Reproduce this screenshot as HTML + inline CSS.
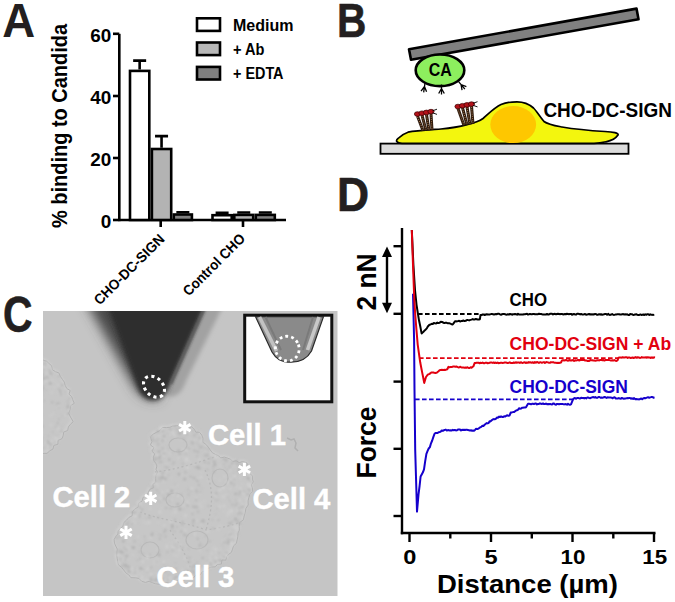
<!DOCTYPE html><html><head><meta charset="utf-8"><style>html,body{margin:0;padding:0;background:#fff;overflow:hidden;}svg{display:block}</style></head><body>
<svg width="675" height="602" viewBox="0 0 675 602">
<defs>
<filter id="b1" x="-20%" y="-20%" width="140%" height="140%"><feGaussianBlur stdDeviation="1.2"/></filter>
<filter id="b2" x="-30%" y="-30%" width="160%" height="160%"><feGaussianBlur stdDeviation="2"/></filter>
<filter id="b15" x="-30%" y="-30%" width="160%" height="160%"><feGaussianBlur stdDeviation="1.6"/></filter>
<filter id="bd" x="-5%" y="-5%" width="110%" height="110%"><feGaussianBlur stdDeviation="0.8"/></filter>
<filter id="b3" x="-30%" y="-30%" width="160%" height="160%"><feGaussianBlur stdDeviation="3"/></filter>
<filter id="b6" x="-30%" y="-30%" width="160%" height="160%"><feGaussianBlur stdDeviation="6"/></filter>
<filter id="bh" x="-30%" y="-30%" width="160%" height="160%"><feGaussianBlur stdDeviation="0.6"/></filter>
</defs>
<rect width="675" height="602" fill="#fff"/>
<text x="0" y="0" font-family="Liberation Sans" font-weight="bold" font-size="49" fill="#231f20" stroke="#231f20" stroke-width="0" stroke-linejoin="round" transform="translate(2.3 37) scale(0.93 1)">A</text>
<text x="0" y="0" font-family="Liberation Sans" font-weight="bold" font-size="47.8" fill="#231f20" stroke="#231f20" stroke-width="0.6" stroke-linejoin="round" transform="translate(337.1 36.9) scale(0.85 1)">B</text>
<text x="0" y="0" font-family="Liberation Sans" font-weight="bold" font-size="49.8" fill="#231f20" stroke="#231f20" stroke-width="0.6" stroke-linejoin="round" transform="translate(3.1 332.2) scale(0.82 1)">C</text>
<text x="0" y="0" font-family="Liberation Sans" font-weight="bold" font-size="47.8" fill="#231f20" stroke="#231f20" stroke-width="0.6" stroke-linejoin="round" transform="translate(337.1 211.3) scale(0.93 1)">D</text>
<g stroke="#000" stroke-width="2.6" fill="none">
<path d="M119.3 33.8 V221.2"/>
<path d="M119.3 220 H286"/>
<path d="M113 33.8 H119.3"/>
<path d="M113 96 H119.3"/>
<path d="M113 158 H119.3"/>
<path d="M113 220 H119.3"/>
<path d="M160.7 220 V227"/><path d="M243 220 V227"/>
</g>
<text x="0" y="0" font-family="Liberation Sans" font-weight="bold" font-size="18.2" text-anchor="end" transform="translate(111.2 41.7) scale(1.04 1)">60</text>
<text x="0" y="0" font-family="Liberation Sans" font-weight="bold" font-size="18.2" text-anchor="end" transform="translate(111.2 103.7) scale(1.04 1)">40</text>
<text x="0" y="0" font-family="Liberation Sans" font-weight="bold" font-size="18.2" text-anchor="end" transform="translate(111.2 165.7) scale(1.04 1)">20</text>
<text x="0" y="0" font-family="Liberation Sans" font-weight="bold" font-size="18.2" text-anchor="end" transform="translate(111.2 227.7) scale(1.04 1)">0</text>
<path d="M139.65 69.6 V60.6 M133.15 60.6 H146.15" stroke="#000" stroke-width="2.6" fill="none"/>
<path d="M161.55 147.7 V136.1 M155.05 136.1 H168.05" stroke="#000" stroke-width="2.6" fill="none"/>
<path d="M182.85 213.2 V212.3 M176.35 212.3 H189.35" stroke="#000" stroke-width="2.6" fill="none"/>
<path d="M222.10 213.9 V212.8 M215.60 212.8 H228.60" stroke="#000" stroke-width="2.6" fill="none"/>
<path d="M243.75 213.6 V212.5 M237.25 212.5 H250.25" stroke="#000" stroke-width="2.6" fill="none"/>
<path d="M265.30 213.6 V212.5 M258.80 212.5 H271.80" stroke="#000" stroke-width="2.6" fill="none"/>
<rect x="130.00" y="70.90" width="19.30" height="149.10" fill="#fff" stroke="#000" stroke-width="2.6"/>
<rect x="151.90" y="149.00" width="19.30" height="71.00" fill="#b3b3b3" stroke="#000" stroke-width="2.6"/>
<rect x="173.80" y="214.50" width="18.10" height="5.50" fill="#808080" stroke="#000" stroke-width="2.6"/>
<rect x="212.50" y="215.20" width="19.20" height="4.80" fill="#fff" stroke="#000" stroke-width="2.6"/>
<rect x="234.30" y="214.90" width="18.90" height="5.10" fill="#b3b3b3" stroke="#000" stroke-width="2.6"/>
<rect x="255.80" y="214.90" width="19.00" height="5.10" fill="#808080" stroke="#000" stroke-width="2.6"/>
<rect x="197" y="18.3" width="23" height="12.6" fill="#fff" stroke="#000" stroke-width="2.6"/>
<text x="233" y="31.4" font-family="Liberation Sans" font-weight="bold" font-size="16.3" fill="#000" text-anchor="start" textLength="60.5" lengthAdjust="spacingAndGlyphs" >Medium</text>
<rect x="197" y="42.5" width="23" height="12.6" fill="#b8b8b8" stroke="#000" stroke-width="2.6"/>
<text x="233" y="55" font-family="Liberation Sans" font-weight="bold" font-size="16.3" fill="#000" text-anchor="start" textLength="31.5" lengthAdjust="spacingAndGlyphs" >+ Ab</text>
<rect x="197" y="66.9" width="23" height="12.6" fill="#7f7f7f" stroke="#000" stroke-width="2.6"/>
<text x="233" y="79" font-family="Liberation Sans" font-weight="bold" font-size="16.3" fill="#000" text-anchor="start" textLength="50.5" lengthAdjust="spacingAndGlyphs" >+ EDTA</text>
<text x="0" y="0" font-family="Liberation Sans" font-weight="bold" font-size="21.5" transform="translate(66.6 228) rotate(-90)" textLength="204" lengthAdjust="spacingAndGlyphs">% binding to Candida</text>
<text x="0" y="0" font-family="Liberation Sans" font-weight="bold" font-size="14.3" transform="translate(165.5 240) rotate(-45)" text-anchor="end" textLength="93" lengthAdjust="spacingAndGlyphs">CHO-DC-SIGN</text>
<text x="0" y="0" font-family="Liberation Sans" font-weight="bold" font-size="14.3" transform="translate(246 239.5) rotate(-45)" text-anchor="end" textLength="81" lengthAdjust="spacingAndGlyphs">Control CHO</text>
<rect x="380.5" y="143.6" width="248" height="10.2" fill="#dcdcdc" stroke="#000" stroke-width="1.8"/>
<path d="M402 143.3 C396 143 395.5 140.5 398 138.5 C401 135.5 404 133.5 408 132.2 C416 130.5 430 129.8 441 129 C452 128 460 126.5 467 124.6 C474 123 479 121.5 483 118.5 C489 113.5 494 108 501 104.6 C506 102.3 511 101.8 517 101.8 C523 101.8 529 104 533.5 108 C537 111.5 540 117 544 121.5 C548 124.5 554 125.5 562 127 C575 129.2 590 130.6 605 131.5 C613 132 619 133 618 135 C616 138 612 140.5 606 141.8 C602 142.8 598 143.3 594 143.3 Z" fill="#f3f60e" stroke="#000" stroke-width="1.7"/>
<ellipse cx="513.2" cy="124.6" rx="22.9" ry="18.5" fill="#fec700" filter="url(#bh)"/>
<path d="M417.5 116 L423 130.8" stroke="#2e1a0e" stroke-width="3"/><path d="M417.5 117 L423 129.8" stroke="#b08050" stroke-width="0.9" stroke-dasharray="1 1.2"/><path d="M422 115.2 L426 130.5" stroke="#2e1a0e" stroke-width="3"/><path d="M422 116.2 L426 129.5" stroke="#b08050" stroke-width="0.9" stroke-dasharray="1 1.2"/><path d="M426.5 114.4 L429 130.4" stroke="#2e1a0e" stroke-width="3"/><path d="M426.5 115.4 L429 129.4" stroke="#b08050" stroke-width="0.9" stroke-dasharray="1 1.2"/><path d="M431 113.6 L432 130.2" stroke="#2e1a0e" stroke-width="3"/><path d="M431 114.6 L432 129.2" stroke="#b08050" stroke-width="0.9" stroke-dasharray="1 1.2"/><ellipse cx="417.5" cy="114" rx="3.1" ry="2.3" fill="#b3121a" stroke="#3a0000" stroke-width="0.7"/><ellipse cx="422" cy="113.2" rx="3.1" ry="2.3" fill="#b3121a" stroke="#3a0000" stroke-width="0.7"/><ellipse cx="426.5" cy="112.4" rx="3.1" ry="2.3" fill="#b3121a" stroke="#3a0000" stroke-width="0.7"/><ellipse cx="431" cy="111.6" rx="3.1" ry="2.3" fill="#b3121a" stroke="#3a0000" stroke-width="0.7"/><path d="M432.5 110.8 l4.5 -1.6 M432.5 112.8 l4.5 1.6" stroke="#000" stroke-width="0.9"/>
<path d="M458 108.5 L464 125.4" stroke="#2e1a0e" stroke-width="3"/><path d="M458 109.5 L464 124.4" stroke="#b08050" stroke-width="0.9" stroke-dasharray="1 1.2"/><path d="M462.5 107.7 L467 125" stroke="#2e1a0e" stroke-width="3"/><path d="M462.5 108.7 L467 124" stroke="#b08050" stroke-width="0.9" stroke-dasharray="1 1.2"/><path d="M467 106.9 L470 124.5" stroke="#2e1a0e" stroke-width="3"/><path d="M467 107.9 L470 123.5" stroke="#b08050" stroke-width="0.9" stroke-dasharray="1 1.2"/><path d="M471.5 106.1 L473 124" stroke="#2e1a0e" stroke-width="3"/><path d="M471.5 107.1 L473 123" stroke="#b08050" stroke-width="0.9" stroke-dasharray="1 1.2"/><ellipse cx="458" cy="106.5" rx="3.1" ry="2.3" fill="#b3121a" stroke="#3a0000" stroke-width="0.7"/><ellipse cx="462.5" cy="105.7" rx="3.1" ry="2.3" fill="#b3121a" stroke="#3a0000" stroke-width="0.7"/><ellipse cx="467" cy="104.9" rx="3.1" ry="2.3" fill="#b3121a" stroke="#3a0000" stroke-width="0.7"/><ellipse cx="471.5" cy="104.1" rx="3.1" ry="2.3" fill="#b3121a" stroke="#3a0000" stroke-width="0.7"/><path d="M473 103.3 l4.5 -1.6 M473 105.3 l4.5 1.6" stroke="#000" stroke-width="0.9"/>
<path d="M409 49.3 L636.5 8.6 L638.5 19.3 L411 59.8 Z" fill="#808080" stroke="#000" stroke-width="2.6" stroke-linejoin="round"/>
<ellipse cx="440" cy="70.3" rx="24.3" ry="15.8" fill="#8def5e" stroke="#000" stroke-width="2.6"/>
<text x="440.2" y="76.3" font-family="Liberation Sans" font-weight="bold" font-size="17.8" fill="#000" text-anchor="middle" textLength="23" lengthAdjust="spacingAndGlyphs" >CA</text>
<g transform="translate(424.5 86.5) rotate(8)" stroke="#000" stroke-width="1.3" fill="none"><path d="M0 -4 V3 M0 0 L-2.8 5 M0 0 L2.8 5 M0 1 L0 6"/></g>
<g transform="translate(441.5 88.5) rotate(0)" stroke="#000" stroke-width="1.3" fill="none"><path d="M0 -4 V3 M0 0 L-2.8 5 M0 0 L2.8 5 M0 1 L0 6"/></g>
<g transform="translate(461 84.5) rotate(-40)" stroke="#000" stroke-width="1.3" fill="none"><path d="M0 -4 V3 M0 0 L-2.8 5 M0 0 L2.8 5 M0 1 L0 6"/></g>
<text x="543.4" y="117.2" font-family="Liberation Sans" font-weight="bold" font-size="19.4" fill="#000" text-anchor="start" textLength="128.5" lengthAdjust="spacingAndGlyphs" >CHO-DC-SIGN</text>
<svg x="43" y="311" width="294.7" height="285" viewBox="43 311 294.7 285" overflow="hidden">
<rect x="43" y="311" width="294.7" height="285" fill="#c5c5c5"/>
<path d="M203 300 L226 300 L186 381 C182 393 176 398 166 396 Z" fill="#a2a2a2" filter="url(#b2)"/>
<path d="M85 300 L160 300 L160 398 C152 402 142 398 135 388 Z" fill="#4a4a4a" filter="url(#b6)"/>
<path d="M105 300 L208 300 L171 383 C166 396 160 400 153 400 C146 400 141 396 138 388 Z" fill="#2d2d2d" filter="url(#b2)"/>
<path d="M206 305 L171 384" stroke="#585858" stroke-width="2.2" filter="url(#b1)"/>
<ellipse cx="154" cy="386.7" rx="12" ry="8.8" transform="rotate(45 154 386.7)" fill="none" stroke="#fff" stroke-width="3.1" stroke-dasharray="3.1 3.4"/>
<path d="M149.7 435.7 L152.5 433.1 L155.8 431.3 L158.9 429.7 L161.6 426.6 L165.4 426.7 L169.0 426.4 L171.8 425.2 L176.0 424.9 L180.2 424.4 L183.4 425.7 L186.4 428.0 L190.6 425.9 L193.1 428.0 L195.0 431.3 L198.6 431.4 L200.9 434.2 L202.1 437.4 L201.9 441.3 L205.0 443.4 L207.2 446.1 L209.3 449.0 L211.4 451.8 L214.5 453.5 L217.3 454.7 L219.9 457.0 L223.4 456.2 L226.3 457.1 L229.3 458.2 L231.9 460.6 L235.3 459.9 L238.2 461.7 L241.6 460.7 L245.7 461.8 L247.5 464.8 L247.1 468.9 L248.2 472.3 L251.7 475.0 L251.6 478.0 L252.4 481.0 L250.3 484.0 L251.4 487.0 L251.9 490.4 L249.1 493.2 L248.0 496.6 L247.2 500.0 L247.3 504.1 L245.0 507.6 L244.4 511.4 L243.3 515.1 L242.5 518.9 L238.6 521.8 L238.3 525.5 L238.4 529.3 L237.1 532.3 L236.9 535.9 L236.2 539.2 L235.5 542.5 L232.7 544.9 L231.6 548.2 L230.5 551.5 L228.0 553.3 L225.9 555.6 L224.9 559.3 L221.1 559.1 L220.4 563.2 L216.8 563.4 L214.3 565.9 L210.7 566.2 L207.3 567.2 L205.0 569.9 L201.4 570.7 L199.1 574.3 L195.0 574.0 L192.3 577.2 L188.6 576.9 L185.3 578.1 L182.1 579.7 L178.2 578.4 L175.2 581.3 L171.8 581.3 L168.5 582.5 L164.8 581.2 L161.4 582.9 L158.0 583.3 L154.7 582.9 L151.5 581.8 L148.3 580.4 L144.6 581.5 L141.0 580.5 L138.0 577.5 L134.4 576.9 L130.0 576.8 L127.9 574.0 L125.0 572.0 L122.9 569.2 L120.7 566.5 L117.6 564.0 L116.9 560.9 L116.3 557.8 L115.9 554.7 L116.0 551.5 L116.4 548.2 L114.9 545.3 L113.6 542.3 L113.2 538.8 L114.7 535.9 L117.0 533.2 L117.3 530.0 L119.3 527.8 L121.9 525.4 L123.0 521.6 L125.6 519.3 L127.9 516.6 L131.3 514.9 L131.5 510.9 L133.9 508.1 L137.4 506.0 L137.8 502.1 L141.1 500.3 L142.2 496.5 L145.7 495.0 L147.3 491.7 L148.9 488.5 L152.5 486.9 L152.0 483.6 L154.9 481.0 L154.8 477.8 L154.9 474.6 L156.7 471.3 L155.1 468.4 L156.0 465.1 L154.8 462.2 L152.6 459.4 L152.5 456.2 L153.8 452.9 L151.0 450.3 L153.1 446.6 L149.5 444.1 L151.1 440.6 L150.0 437.6 Z" fill="#c7c7c7" stroke="#cfcfcf" stroke-width="2.2" filter="url(#b1)"/>
<path d="M149.7 435.7 L152.5 433.1 L155.8 431.3 L158.9 429.7 L161.6 426.6 L165.4 426.7 L169.0 426.4 L171.8 425.2 L176.0 424.9 L180.2 424.4 L183.4 425.7 L186.4 428.0 L190.6 425.9 L193.1 428.0 L195.0 431.3 L198.6 431.4 L200.9 434.2 L202.1 437.4 L201.9 441.3 L205.0 443.4 L207.2 446.1 L209.3 449.0 L211.4 451.8 L214.5 453.5 L217.3 454.7 L219.9 457.0 L223.4 456.2 L226.3 457.1 L229.3 458.2 L231.9 460.6 L235.3 459.9 L238.2 461.7 L241.6 460.7 L245.7 461.8 L247.5 464.8 L247.1 468.9 L248.2 472.3 L251.7 475.0 L251.6 478.0 L252.4 481.0 L250.3 484.0 L251.4 487.0 L251.9 490.4 L249.1 493.2 L248.0 496.6 L247.2 500.0 L247.3 504.1 L245.0 507.6 L244.4 511.4 L243.3 515.1 L242.5 518.9 L238.6 521.8 L238.3 525.5 L238.4 529.3 L237.1 532.3 L236.9 535.9 L236.2 539.2 L235.5 542.5 L232.7 544.9 L231.6 548.2 L230.5 551.5 L228.0 553.3 L225.9 555.6 L224.9 559.3 L221.1 559.1 L220.4 563.2 L216.8 563.4 L214.3 565.9 L210.7 566.2 L207.3 567.2 L205.0 569.9 L201.4 570.7 L199.1 574.3 L195.0 574.0 L192.3 577.2 L188.6 576.9 L185.3 578.1 L182.1 579.7 L178.2 578.4 L175.2 581.3 L171.8 581.3 L168.5 582.5 L164.8 581.2 L161.4 582.9 L158.0 583.3 L154.7 582.9 L151.5 581.8 L148.3 580.4 L144.6 581.5 L141.0 580.5 L138.0 577.5 L134.4 576.9 L130.0 576.8 L127.9 574.0 L125.0 572.0 L122.9 569.2 L120.7 566.5 L117.6 564.0 L116.9 560.9 L116.3 557.8 L115.9 554.7 L116.0 551.5 L116.4 548.2 L114.9 545.3 L113.6 542.3 L113.2 538.8 L114.7 535.9 L117.0 533.2 L117.3 530.0 L119.3 527.8 L121.9 525.4 L123.0 521.6 L125.6 519.3 L127.9 516.6 L131.3 514.9 L131.5 510.9 L133.9 508.1 L137.4 506.0 L137.8 502.1 L141.1 500.3 L142.2 496.5 L145.7 495.0 L147.3 491.7 L148.9 488.5 L152.5 486.9 L152.0 483.6 L154.9 481.0 L154.8 477.8 L154.9 474.6 L156.7 471.3 L155.1 468.4 L156.0 465.1 L154.8 462.2 L152.6 459.4 L152.5 456.2 L153.8 452.9 L151.0 450.3 L153.1 446.6 L149.5 444.1 L151.1 440.6 L150.0 437.6 Z" fill="none" stroke="#b3b3b3" stroke-width="1" transform="translate(0.9 0.9)" filter="url(#bh)"/>
<path d="M40.3 357.0 L42.8 359.6 L45.7 360.3 L48.1 362.6 L50.7 364.8 L51.5 368.8 L54.5 370.8 L58.0 372.0 L59.3 375.3 L61.5 378.4 L63.3 381.0 L64.3 384.4 L65.8 387.5 L69.3 389.6 L68.1 393.3 L70.8 395.7 L71.8 398.7 L73.4 402.4 L69.5 404.9 L69.3 408.4 L67.8 412.3 L69.6 416.1 L72.3 420.8 L69.7 423.3 L67.5 426.0 L66.8 429.6 L62.8 431.1 L62.3 434.9 L60.9 438.0 L57.2 439.4 L57.0 443.4 L52.9 444.5 L52.1 448.1 L48.9 449.9 L46.1 452.5 L43.0 452.5 L39.0 453.0 L38.5 449.9 L41.2 446.9 L39.2 443.8 L40.9 440.7 L39.1 437.7 L41.5 434.6 L41.3 431.5 L40.8 428.5 L40.8 425.4 L40.3 422.4 L40.7 419.3 L38.8 416.2 L39.9 413.2 L41.0 410.1 L39.0 407.0 L41.4 404.0 L41.2 400.9 L39.7 397.8 L39.6 394.8 L39.8 391.7 L39.6 388.6 L41.6 385.6 L39.6 382.5 L38.5 379.5 L38.7 376.4 L40.7 373.3 L41.6 370.3 L40.0 367.2 L40.0 364.1 L40.2 361.1 Z" fill="#c7c7c7" stroke="#cfcfcf" stroke-width="2.2" filter="url(#b1)"/>
<path d="M40.3 357.0 L42.8 359.6 L45.7 360.3 L48.1 362.6 L50.7 364.8 L51.5 368.8 L54.5 370.8 L58.0 372.0 L59.3 375.3 L61.5 378.4 L63.3 381.0 L64.3 384.4 L65.8 387.5 L69.3 389.6 L68.1 393.3 L70.8 395.7 L71.8 398.7 L73.4 402.4 L69.5 404.9 L69.3 408.4 L67.8 412.3 L69.6 416.1 L72.3 420.8 L69.7 423.3 L67.5 426.0 L66.8 429.6 L62.8 431.1 L62.3 434.9 L60.9 438.0 L57.2 439.4 L57.0 443.4 L52.9 444.5 L52.1 448.1 L48.9 449.9 L46.1 452.5 L43.0 452.5 L39.0 453.0 L38.5 449.9 L41.2 446.9 L39.2 443.8 L40.9 440.7 L39.1 437.7 L41.5 434.6 L41.3 431.5 L40.8 428.5 L40.8 425.4 L40.3 422.4 L40.7 419.3 L38.8 416.2 L39.9 413.2 L41.0 410.1 L39.0 407.0 L41.4 404.0 L41.2 400.9 L39.7 397.8 L39.6 394.8 L39.8 391.7 L39.6 388.6 L41.6 385.6 L39.6 382.5 L38.5 379.5 L38.7 376.4 L40.7 373.3 L41.6 370.3 L40.0 367.2 L40.0 364.1 L40.2 361.1 Z" fill="none" stroke="#b3b3b3" stroke-width="1" transform="translate(0.9 0.9)" filter="url(#bh)"/>
<path d="M155 472 C175 470 200 462 217 456 M205 470 C215 490 212 510 206 530 M140 512 C160 520 185 522 206 530 C220 528 235 525 240 522 M170 530 C180 545 190 560 192 576" fill="none" stroke="#b7b7b7" stroke-width="1.3" stroke-dasharray="2 2.5" filter="url(#bh)"/>
<ellipse cx="178" cy="445" rx="9" ry="7" fill="none" stroke="#b9b9b9" stroke-width="1.2" filter="url(#bh)"/>
<ellipse cx="220" cy="478" rx="8" ry="9" fill="none" stroke="#b9b9b9" stroke-width="1.2" filter="url(#bh)"/>
<ellipse cx="175" cy="500" rx="9" ry="7" fill="none" stroke="#b9b9b9" stroke-width="1.2" filter="url(#bh)"/>
<ellipse cx="197" cy="540" rx="11" ry="9" fill="none" stroke="#b9b9b9" stroke-width="1.2" filter="url(#bh)"/>
<ellipse cx="150" cy="550" rx="9" ry="8" fill="none" stroke="#b9b9b9" stroke-width="1.2" filter="url(#bh)"/>
<g filter="url(#bd)"><circle cx="139.1" cy="505.0" r="0.8" fill="rgb(184,184,184)"/><circle cx="203.4" cy="521.4" r="1.4" fill="rgb(176,176,176)"/><circle cx="158.5" cy="517.5" r="1.2" fill="rgb(186,186,186)"/><circle cx="210.8" cy="473.9" r="0.7" fill="rgb(188,188,188)"/><circle cx="191.0" cy="441.1" r="1.0" fill="rgb(188,188,188)"/><circle cx="220.5" cy="466.7" r="0.7" fill="rgb(204,204,204)"/><circle cx="170.0" cy="570.1" r="0.7" fill="rgb(180,180,180)"/><circle cx="167.9" cy="580.7" r="1.5" fill="rgb(188,188,188)"/><circle cx="192.8" cy="430.7" r="0.9" fill="rgb(208,208,208)"/><circle cx="196.5" cy="490.7" r="1.1" fill="rgb(176,176,176)"/><circle cx="203.3" cy="521.5" r="1.4" fill="rgb(186,186,186)"/><circle cx="150.7" cy="494.6" r="0.9" fill="rgb(184,184,184)"/><circle cx="185.3" cy="573.9" r="1.1" fill="rgb(176,176,176)"/><circle cx="162.8" cy="473.4" r="1.1" fill="rgb(180,180,180)"/><circle cx="193.6" cy="520.4" r="1.5" fill="rgb(180,180,180)"/><circle cx="234.3" cy="539.3" r="1.1" fill="rgb(208,208,208)"/><circle cx="196.2" cy="500.1" r="1.1" fill="rgb(180,180,180)"/><circle cx="198.0" cy="569.7" r="1.0" fill="rgb(176,176,176)"/><circle cx="133.4" cy="520.8" r="1.2" fill="rgb(204,204,204)"/><circle cx="205.0" cy="455.4" r="1.4" fill="rgb(186,186,186)"/><circle cx="175.5" cy="467.6" r="1.0" fill="rgb(206,206,206)"/><circle cx="229.1" cy="522.9" r="0.9" fill="rgb(176,176,176)"/><circle cx="201.6" cy="488.1" r="0.9" fill="rgb(188,188,188)"/><circle cx="207.6" cy="455.6" r="1.3" fill="rgb(184,184,184)"/><circle cx="217.2" cy="508.7" r="0.9" fill="rgb(186,186,186)"/><circle cx="177.3" cy="527.1" r="0.9" fill="rgb(180,180,180)"/><circle cx="231.0" cy="479.2" r="1.0" fill="rgb(208,208,208)"/><circle cx="136.3" cy="505.4" r="0.9" fill="rgb(188,188,188)"/><circle cx="185.6" cy="514.7" r="0.8" fill="rgb(210,210,210)"/><circle cx="136.6" cy="571.3" r="0.9" fill="rgb(206,206,206)"/><circle cx="179.1" cy="474.2" r="1.4" fill="rgb(176,176,176)"/><circle cx="131.5" cy="547.4" r="0.8" fill="rgb(186,186,186)"/><circle cx="212.9" cy="462.7" r="1.3" fill="rgb(208,208,208)"/><circle cx="170.4" cy="507.8" r="1.4" fill="rgb(186,186,186)"/><circle cx="187.0" cy="458.6" r="1.2" fill="rgb(210,210,210)"/><circle cx="231.2" cy="460.8" r="1.4" fill="rgb(204,204,204)"/><circle cx="127.1" cy="555.7" r="0.9" fill="rgb(184,184,184)"/><circle cx="199.8" cy="550.5" r="1.4" fill="rgb(204,204,204)"/><circle cx="207.7" cy="453.9" r="0.7" fill="rgb(180,180,180)"/><circle cx="179.7" cy="454.0" r="1.4" fill="rgb(184,184,184)"/><circle cx="244.2" cy="497.1" r="1.0" fill="rgb(204,204,204)"/><circle cx="172.2" cy="480.1" r="0.7" fill="rgb(204,204,204)"/><circle cx="209.8" cy="557.6" r="1.0" fill="rgb(208,208,208)"/><circle cx="126.8" cy="549.4" r="1.3" fill="rgb(180,180,180)"/><circle cx="210.3" cy="560.3" r="1.2" fill="rgb(206,206,206)"/><circle cx="140.0" cy="516.5" r="0.9" fill="rgb(188,188,188)"/><circle cx="129.7" cy="541.6" r="0.8" fill="rgb(206,206,206)"/><circle cx="172.9" cy="452.7" r="0.8" fill="rgb(184,184,184)"/><circle cx="160.6" cy="498.2" r="1.5" fill="rgb(204,204,204)"/><circle cx="151.2" cy="576.2" r="1.2" fill="rgb(186,186,186)"/><circle cx="215.0" cy="464.6" r="1.3" fill="rgb(176,176,176)"/><circle cx="185.1" cy="558.0" r="1.3" fill="rgb(208,208,208)"/><circle cx="178.0" cy="578.9" r="0.7" fill="rgb(180,180,180)"/><circle cx="162.7" cy="448.5" r="1.2" fill="rgb(184,184,184)"/><circle cx="214.4" cy="461.7" r="1.3" fill="rgb(188,188,188)"/><circle cx="200.5" cy="543.3" r="1.1" fill="rgb(186,186,186)"/><circle cx="162.3" cy="477.5" r="1.4" fill="rgb(184,184,184)"/><circle cx="240.0" cy="491.7" r="1.1" fill="rgb(180,180,180)"/><circle cx="158.7" cy="563.6" r="1.0" fill="rgb(204,204,204)"/><circle cx="155.6" cy="474.3" r="0.9" fill="rgb(210,210,210)"/><circle cx="163.4" cy="481.9" r="1.2" fill="rgb(206,206,206)"/><circle cx="222.9" cy="541.0" r="1.1" fill="rgb(206,206,206)"/><circle cx="228.4" cy="513.1" r="1.4" fill="rgb(208,208,208)"/><circle cx="188.7" cy="548.8" r="0.9" fill="rgb(180,180,180)"/><circle cx="224.4" cy="476.7" r="1.1" fill="rgb(208,208,208)"/><circle cx="171.6" cy="490.6" r="1.5" fill="rgb(184,184,184)"/><circle cx="165.2" cy="450.5" r="1.1" fill="rgb(206,206,206)"/><circle cx="213.9" cy="472.0" r="1.4" fill="rgb(184,184,184)"/><circle cx="169.0" cy="575.3" r="1.1" fill="rgb(180,180,180)"/><circle cx="151.4" cy="580.8" r="1.4" fill="rgb(186,186,186)"/><circle cx="184.5" cy="432.4" r="0.7" fill="rgb(184,184,184)"/><circle cx="150.8" cy="537.4" r="1.3" fill="rgb(208,208,208)"/><circle cx="183.1" cy="427.0" r="1.4" fill="rgb(186,186,186)"/><circle cx="126.3" cy="554.8" r="1.0" fill="rgb(210,210,210)"/><circle cx="157.1" cy="488.2" r="1.2" fill="rgb(208,208,208)"/><circle cx="216.1" cy="548.2" r="0.7" fill="rgb(208,208,208)"/><circle cx="165.5" cy="536.4" r="1.1" fill="rgb(180,180,180)"/><circle cx="243.3" cy="513.1" r="1.1" fill="rgb(204,204,204)"/><circle cx="131.8" cy="523.8" r="1.0" fill="rgb(186,186,186)"/><circle cx="228.5" cy="517.8" r="0.7" fill="rgb(186,186,186)"/><circle cx="249.1" cy="492.7" r="1.4" fill="rgb(204,204,204)"/><circle cx="218.9" cy="554.0" r="1.4" fill="rgb(204,204,204)"/><circle cx="157.3" cy="548.9" r="0.7" fill="rgb(210,210,210)"/><circle cx="159.1" cy="478.2" r="1.1" fill="rgb(180,180,180)"/><circle cx="154.0" cy="440.3" r="1.3" fill="rgb(188,188,188)"/><circle cx="237.5" cy="510.8" r="1.1" fill="rgb(210,210,210)"/><circle cx="242.0" cy="513.8" r="1.3" fill="rgb(186,186,186)"/><circle cx="171.0" cy="476.8" r="0.9" fill="rgb(204,204,204)"/><circle cx="238.0" cy="521.4" r="0.8" fill="rgb(176,176,176)"/><circle cx="170.2" cy="429.2" r="1.2" fill="rgb(180,180,180)"/><circle cx="137.6" cy="506.3" r="0.7" fill="rgb(204,204,204)"/><circle cx="169.0" cy="502.8" r="1.0" fill="rgb(204,204,204)"/><circle cx="237.8" cy="507.3" r="1.0" fill="rgb(206,206,206)"/><circle cx="147.3" cy="557.7" r="1.5" fill="rgb(206,206,206)"/><circle cx="213.9" cy="562.0" r="1.0" fill="rgb(210,210,210)"/><circle cx="224.1" cy="459.1" r="1.4" fill="rgb(180,180,180)"/><circle cx="127.3" cy="549.4" r="1.2" fill="rgb(210,210,210)"/><circle cx="133.2" cy="533.6" r="0.7" fill="rgb(188,188,188)"/><circle cx="232.9" cy="536.9" r="1.0" fill="rgb(208,208,208)"/><circle cx="137.0" cy="560.4" r="0.9" fill="rgb(186,186,186)"/><circle cx="124.2" cy="569.2" r="0.7" fill="rgb(176,176,176)"/><circle cx="157.7" cy="500.5" r="1.1" fill="rgb(188,188,188)"/><circle cx="229.6" cy="532.3" r="0.8" fill="rgb(210,210,210)"/><circle cx="146.1" cy="501.4" r="0.9" fill="rgb(208,208,208)"/><circle cx="141.5" cy="577.7" r="1.4" fill="rgb(208,208,208)"/><circle cx="238.1" cy="514.1" r="1.2" fill="rgb(186,186,186)"/><circle cx="217.3" cy="519.1" r="1.1" fill="rgb(208,208,208)"/><circle cx="170.0" cy="507.2" r="0.9" fill="rgb(210,210,210)"/><circle cx="171.9" cy="436.1" r="0.9" fill="rgb(186,186,186)"/><circle cx="187.8" cy="490.4" r="1.0" fill="rgb(188,188,188)"/><circle cx="134.8" cy="572.3" r="1.3" fill="rgb(186,186,186)"/><circle cx="157.9" cy="484.9" r="1.0" fill="rgb(206,206,206)"/><circle cx="219.4" cy="506.2" r="1.2" fill="rgb(206,206,206)"/><circle cx="216.2" cy="500.4" r="1.2" fill="rgb(188,188,188)"/><circle cx="123.0" cy="559.0" r="1.2" fill="rgb(204,204,204)"/><circle cx="145.9" cy="524.1" r="0.8" fill="rgb(206,206,206)"/><circle cx="152.8" cy="535.3" r="0.9" fill="rgb(206,206,206)"/><circle cx="235.3" cy="525.7" r="1.5" fill="rgb(204,204,204)"/><circle cx="166.1" cy="568.0" r="1.2" fill="rgb(184,184,184)"/><circle cx="168.1" cy="448.8" r="0.8" fill="rgb(184,184,184)"/><circle cx="187.0" cy="461.5" r="1.3" fill="rgb(204,204,204)"/><circle cx="164.2" cy="532.1" r="1.4" fill="rgb(186,186,186)"/><circle cx="165.4" cy="530.0" r="1.5" fill="rgb(184,184,184)"/><circle cx="240.9" cy="466.4" r="1.2" fill="rgb(188,188,188)"/><circle cx="120.5" cy="536.9" r="0.9" fill="rgb(176,176,176)"/><circle cx="233.0" cy="526.8" r="1.3" fill="rgb(206,206,206)"/><circle cx="248.2" cy="485.6" r="0.9" fill="rgb(210,210,210)"/><circle cx="168.6" cy="475.0" r="1.0" fill="rgb(186,186,186)"/><circle cx="122.6" cy="565.3" r="0.7" fill="rgb(180,180,180)"/><circle cx="249.7" cy="488.7" r="1.3" fill="rgb(204,204,204)"/><circle cx="168.0" cy="433.1" r="0.9" fill="rgb(188,188,188)"/><circle cx="228.0" cy="538.8" r="1.5" fill="rgb(176,176,176)"/><circle cx="237.0" cy="522.7" r="0.9" fill="rgb(184,184,184)"/><circle cx="157.9" cy="438.9" r="0.9" fill="rgb(184,184,184)"/><circle cx="172.8" cy="425.5" r="0.8" fill="rgb(206,206,206)"/><circle cx="178.6" cy="572.6" r="1.4" fill="rgb(184,184,184)"/><circle cx="220.3" cy="507.1" r="1.4" fill="rgb(206,206,206)"/><circle cx="148.9" cy="522.6" r="1.5" fill="rgb(208,208,208)"/><circle cx="168.9" cy="561.3" r="0.8" fill="rgb(208,208,208)"/><circle cx="184.7" cy="479.2" r="1.4" fill="rgb(176,176,176)"/><circle cx="163.9" cy="439.9" r="1.5" fill="rgb(204,204,204)"/><circle cx="170.8" cy="521.3" r="1.4" fill="rgb(208,208,208)"/><circle cx="213.5" cy="455.2" r="1.0" fill="rgb(206,206,206)"/><circle cx="193.3" cy="430.5" r="1.5" fill="rgb(188,188,188)"/><circle cx="197.4" cy="480.6" r="1.3" fill="rgb(180,180,180)"/><circle cx="161.3" cy="535.4" r="0.9" fill="rgb(180,180,180)"/><circle cx="175.2" cy="434.2" r="1.2" fill="rgb(188,188,188)"/><circle cx="151.9" cy="440.2" r="1.1" fill="rgb(180,180,180)"/><circle cx="127.4" cy="565.9" r="0.7" fill="rgb(204,204,204)"/><circle cx="205.3" cy="448.6" r="1.1" fill="rgb(184,184,184)"/><circle cx="249.8" cy="486.6" r="1.3" fill="rgb(210,210,210)"/><circle cx="213.9" cy="546.8" r="0.8" fill="rgb(208,208,208)"/><circle cx="194.5" cy="450.9" r="1.4" fill="rgb(184,184,184)"/><circle cx="128.1" cy="558.6" r="0.8" fill="rgb(210,210,210)"/><circle cx="226.5" cy="460.2" r="1.3" fill="rgb(180,180,180)"/><circle cx="186.6" cy="428.5" r="1.4" fill="rgb(188,188,188)"/><circle cx="167.2" cy="471.4" r="0.8" fill="rgb(210,210,210)"/><circle cx="172.8" cy="495.4" r="0.7" fill="rgb(210,210,210)"/><circle cx="221.8" cy="525.7" r="0.7" fill="rgb(208,208,208)"/><circle cx="124.1" cy="547.7" r="1.0" fill="rgb(184,184,184)"/><circle cx="175.1" cy="493.2" r="1.4" fill="rgb(204,204,204)"/><circle cx="203.2" cy="442.0" r="1.0" fill="rgb(180,180,180)"/><circle cx="187.3" cy="556.9" r="1.1" fill="rgb(188,188,188)"/><circle cx="158.7" cy="534.4" r="1.0" fill="rgb(188,188,188)"/><circle cx="223.8" cy="464.3" r="1.0" fill="rgb(186,186,186)"/><circle cx="145.5" cy="543.2" r="1.1" fill="rgb(188,188,188)"/><circle cx="162.7" cy="471.8" r="0.9" fill="rgb(184,184,184)"/><circle cx="141.1" cy="508.7" r="0.8" fill="rgb(180,180,180)"/><circle cx="250.3" cy="482.4" r="1.5" fill="rgb(180,180,180)"/><circle cx="213.4" cy="465.9" r="0.8" fill="rgb(176,176,176)"/><circle cx="235.6" cy="529.7" r="0.8" fill="rgb(210,210,210)"/><circle cx="220.0" cy="465.1" r="1.2" fill="rgb(204,204,204)"/><circle cx="192.6" cy="570.7" r="1.4" fill="rgb(188,188,188)"/><circle cx="156.2" cy="562.1" r="0.8" fill="rgb(180,180,180)"/><circle cx="239.8" cy="509.9" r="0.8" fill="rgb(184,184,184)"/><circle cx="126.0" cy="566.4" r="1.3" fill="rgb(186,186,186)"/><circle cx="197.8" cy="571.7" r="0.8" fill="rgb(210,210,210)"/><circle cx="249.1" cy="489.6" r="1.3" fill="rgb(184,184,184)"/><circle cx="159.4" cy="461.7" r="1.2" fill="rgb(188,188,188)"/><circle cx="192.5" cy="514.8" r="0.9" fill="rgb(188,188,188)"/><circle cx="155.1" cy="476.2" r="1.3" fill="rgb(176,176,176)"/><circle cx="170.6" cy="580.7" r="0.8" fill="rgb(204,204,204)"/><circle cx="171.2" cy="530.1" r="1.0" fill="rgb(186,186,186)"/><circle cx="179.0" cy="553.5" r="0.7" fill="rgb(208,208,208)"/><circle cx="244.5" cy="491.3" r="0.9" fill="rgb(180,180,180)"/><circle cx="206.7" cy="563.7" r="1.0" fill="rgb(208,208,208)"/><circle cx="213.2" cy="531.1" r="0.8" fill="rgb(204,204,204)"/><circle cx="186.0" cy="573.9" r="0.7" fill="rgb(186,186,186)"/><circle cx="139.3" cy="576.8" r="0.9" fill="rgb(180,180,180)"/><circle cx="218.3" cy="487.4" r="0.7" fill="rgb(184,184,184)"/><circle cx="235.9" cy="528.2" r="1.5" fill="rgb(210,210,210)"/><circle cx="153.3" cy="451.1" r="1.1" fill="rgb(186,186,186)"/><circle cx="201.3" cy="524.3" r="1.1" fill="rgb(208,208,208)"/><circle cx="181.9" cy="570.0" r="1.2" fill="rgb(206,206,206)"/><circle cx="229.8" cy="514.0" r="1.1" fill="rgb(204,204,204)"/><circle cx="152.2" cy="494.1" r="0.9" fill="rgb(176,176,176)"/><circle cx="227.4" cy="550.3" r="0.8" fill="rgb(210,210,210)"/><circle cx="162.2" cy="433.2" r="0.8" fill="rgb(208,208,208)"/><circle cx="154.6" cy="563.5" r="0.9" fill="rgb(208,208,208)"/><circle cx="147.2" cy="569.6" r="1.2" fill="rgb(210,210,210)"/><circle cx="144.6" cy="536.6" r="1.1" fill="rgb(184,184,184)"/><circle cx="198.5" cy="442.6" r="1.0" fill="rgb(206,206,206)"/><circle cx="153.6" cy="574.7" r="1.3" fill="rgb(208,208,208)"/><circle cx="159.5" cy="468.2" r="0.8" fill="rgb(208,208,208)"/><circle cx="127.0" cy="535.6" r="0.9" fill="rgb(210,210,210)"/><circle cx="141.1" cy="515.9" r="1.0" fill="rgb(204,204,204)"/><circle cx="160.4" cy="575.8" r="1.0" fill="rgb(210,210,210)"/><circle cx="237.4" cy="463.8" r="1.1" fill="rgb(176,176,176)"/><circle cx="139.7" cy="545.3" r="0.8" fill="rgb(184,184,184)"/><circle cx="193.9" cy="572.0" r="1.3" fill="rgb(176,176,176)"/><circle cx="176.4" cy="492.5" r="0.9" fill="rgb(208,208,208)"/><circle cx="182.1" cy="548.2" r="1.2" fill="rgb(186,186,186)"/><circle cx="198.1" cy="431.3" r="0.9" fill="rgb(184,184,184)"/><circle cx="201.2" cy="477.1" r="1.2" fill="rgb(210,210,210)"/><circle cx="215.1" cy="561.7" r="1.3" fill="rgb(176,176,176)"/><circle cx="248.1" cy="478.1" r="1.4" fill="rgb(176,176,176)"/><circle cx="161.0" cy="491.5" r="0.9" fill="rgb(206,206,206)"/><circle cx="140.7" cy="568.5" r="1.4" fill="rgb(176,176,176)"/><circle cx="236.2" cy="529.0" r="1.2" fill="rgb(206,206,206)"/><circle cx="173.1" cy="432.2" r="1.3" fill="rgb(210,210,210)"/><circle cx="187.4" cy="427.8" r="0.8" fill="rgb(206,206,206)"/><circle cx="222.6" cy="541.0" r="0.7" fill="rgb(208,208,208)"/><circle cx="229.7" cy="535.0" r="1.2" fill="rgb(188,188,188)"/><circle cx="144.3" cy="522.1" r="1.3" fill="rgb(204,204,204)"/><circle cx="179.4" cy="433.4" r="1.4" fill="rgb(176,176,176)"/><circle cx="198.0" cy="511.7" r="1.3" fill="rgb(184,184,184)"/><circle cx="158.0" cy="498.0" r="0.7" fill="rgb(210,210,210)"/><circle cx="240.4" cy="471.4" r="0.9" fill="rgb(204,204,204)"/><circle cx="194.9" cy="466.5" r="1.1" fill="rgb(180,180,180)"/><circle cx="118.2" cy="550.1" r="1.1" fill="rgb(188,188,188)"/><circle cx="162.7" cy="575.2" r="0.7" fill="rgb(180,180,180)"/><circle cx="201.4" cy="441.5" r="1.2" fill="rgb(206,206,206)"/><circle cx="123.2" cy="541.9" r="0.9" fill="rgb(208,208,208)"/><circle cx="193.0" cy="524.0" r="1.3" fill="rgb(186,186,186)"/><circle cx="240.5" cy="519.6" r="1.0" fill="rgb(188,188,188)"/><circle cx="127.7" cy="524.8" r="1.3" fill="rgb(186,186,186)"/><circle cx="245.1" cy="474.9" r="1.0" fill="rgb(184,184,184)"/><circle cx="207.5" cy="561.1" r="1.0" fill="rgb(188,188,188)"/><circle cx="241.9" cy="474.6" r="1.1" fill="rgb(206,206,206)"/><circle cx="166.4" cy="508.1" r="1.0" fill="rgb(176,176,176)"/><circle cx="197.1" cy="456.3" r="1.1" fill="rgb(186,186,186)"/><circle cx="180.2" cy="430.8" r="0.8" fill="rgb(176,176,176)"/><circle cx="233.7" cy="479.5" r="0.8" fill="rgb(188,188,188)"/><circle cx="233.9" cy="484.3" r="0.8" fill="rgb(176,176,176)"/><circle cx="160.7" cy="580.5" r="0.9" fill="rgb(180,180,180)"/><circle cx="155.9" cy="580.3" r="1.4" fill="rgb(204,204,204)"/><circle cx="128.6" cy="527.4" r="0.9" fill="rgb(188,188,188)"/><circle cx="215.2" cy="561.1" r="1.5" fill="rgb(188,188,188)"/><circle cx="122.3" cy="523.5" r="1.5" fill="rgb(204,204,204)"/><circle cx="139.4" cy="504.1" r="1.4" fill="rgb(210,210,210)"/><circle cx="141.0" cy="512.1" r="0.8" fill="rgb(176,176,176)"/><circle cx="178.1" cy="504.3" r="1.3" fill="rgb(206,206,206)"/><circle cx="145.6" cy="500.2" r="1.4" fill="rgb(208,208,208)"/><circle cx="207.7" cy="448.1" r="0.8" fill="rgb(186,186,186)"/><circle cx="229.5" cy="510.3" r="1.5" fill="rgb(204,204,204)"/><circle cx="231.1" cy="482.9" r="1.1" fill="rgb(176,176,176)"/><circle cx="172.2" cy="525.1" r="1.2" fill="rgb(176,176,176)"/><circle cx="247.4" cy="469.4" r="1.1" fill="rgb(206,206,206)"/><circle cx="183.7" cy="433.3" r="1.2" fill="rgb(204,204,204)"/><circle cx="153.5" cy="496.1" r="1.0" fill="rgb(188,188,188)"/><circle cx="239.9" cy="500.6" r="1.4" fill="rgb(208,208,208)"/><circle cx="244.4" cy="494.3" r="1.2" fill="rgb(180,180,180)"/><circle cx="164.2" cy="564.6" r="0.7" fill="rgb(176,176,176)"/><circle cx="234.0" cy="540.1" r="0.9" fill="rgb(184,184,184)"/><circle cx="174.9" cy="519.8" r="1.0" fill="rgb(176,176,176)"/><circle cx="133.5" cy="547.5" r="1.5" fill="rgb(176,176,176)"/><circle cx="138.3" cy="502.3" r="0.9" fill="rgb(206,206,206)"/><circle cx="213.5" cy="497.4" r="0.9" fill="rgb(180,180,180)"/><circle cx="229.8" cy="500.9" r="0.8" fill="rgb(180,180,180)"/><circle cx="240.0" cy="471.9" r="1.3" fill="rgb(180,180,180)"/><circle cx="180.9" cy="438.9" r="1.5" fill="rgb(208,208,208)"/><circle cx="181.8" cy="425.9" r="1.3" fill="rgb(180,180,180)"/><circle cx="162.2" cy="577.9" r="0.8" fill="rgb(180,180,180)"/><circle cx="190.1" cy="439.4" r="1.2" fill="rgb(206,206,206)"/><circle cx="156.6" cy="442.9" r="1.3" fill="rgb(206,206,206)"/><circle cx="161.5" cy="576.0" r="1.3" fill="rgb(204,204,204)"/><circle cx="190.9" cy="571.0" r="1.2" fill="rgb(206,206,206)"/><circle cx="129.4" cy="548.3" r="1.0" fill="rgb(206,206,206)"/><circle cx="174.6" cy="545.3" r="0.9" fill="rgb(180,180,180)"/><circle cx="165.6" cy="498.4" r="0.7" fill="rgb(188,188,188)"/><circle cx="180.8" cy="438.1" r="1.4" fill="rgb(188,188,188)"/><circle cx="160.8" cy="508.0" r="0.9" fill="rgb(204,204,204)"/><circle cx="232.4" cy="504.7" r="1.4" fill="rgb(188,188,188)"/><circle cx="224.3" cy="487.1" r="0.8" fill="rgb(206,206,206)"/><circle cx="165.5" cy="466.7" r="1.3" fill="rgb(188,188,188)"/><circle cx="235.5" cy="518.9" r="1.5" fill="rgb(176,176,176)"/><circle cx="136.4" cy="513.1" r="0.8" fill="rgb(208,208,208)"/><circle cx="194.4" cy="534.9" r="1.1" fill="rgb(208,208,208)"/><circle cx="161.7" cy="581.0" r="0.8" fill="rgb(176,176,176)"/><circle cx="209.8" cy="541.4" r="1.5" fill="rgb(188,188,188)"/><circle cx="164.2" cy="525.2" r="1.3" fill="rgb(206,206,206)"/><circle cx="223.8" cy="497.2" r="1.1" fill="rgb(208,208,208)"/><circle cx="226.4" cy="537.3" r="1.4" fill="rgb(206,206,206)"/><circle cx="205.6" cy="535.8" r="1.2" fill="rgb(188,188,188)"/><circle cx="162.3" cy="477.7" r="1.4" fill="rgb(176,176,176)"/><circle cx="189.1" cy="432.3" r="1.3" fill="rgb(208,208,208)"/><circle cx="236.7" cy="486.8" r="1.4" fill="rgb(204,204,204)"/><circle cx="162.7" cy="431.2" r="1.2" fill="rgb(186,186,186)"/><circle cx="155.0" cy="475.4" r="1.4" fill="rgb(206,206,206)"/><circle cx="150.2" cy="508.7" r="1.4" fill="rgb(204,204,204)"/><circle cx="165.5" cy="478.9" r="1.4" fill="rgb(180,180,180)"/><circle cx="135.4" cy="513.8" r="0.8" fill="rgb(208,208,208)"/><circle cx="150.6" cy="579.3" r="1.3" fill="rgb(180,180,180)"/><circle cx="229.6" cy="545.8" r="1.1" fill="rgb(208,208,208)"/><circle cx="250.7" cy="476.0" r="1.0" fill="rgb(206,206,206)"/><circle cx="164.1" cy="454.1" r="1.3" fill="rgb(180,180,180)"/><circle cx="154.4" cy="460.9" r="1.4" fill="rgb(184,184,184)"/><circle cx="135.7" cy="516.0" r="1.5" fill="rgb(210,210,210)"/><circle cx="197.3" cy="562.4" r="0.9" fill="rgb(184,184,184)"/><circle cx="240.3" cy="509.7" r="1.4" fill="rgb(204,204,204)"/><circle cx="230.7" cy="459.7" r="0.7" fill="rgb(188,188,188)"/><circle cx="226.5" cy="462.6" r="0.7" fill="rgb(188,188,188)"/><circle cx="126.1" cy="533.8" r="1.1" fill="rgb(176,176,176)"/><circle cx="147.0" cy="498.5" r="1.0" fill="rgb(208,208,208)"/><circle cx="157.2" cy="455.9" r="1.1" fill="rgb(208,208,208)"/><circle cx="240.3" cy="467.0" r="1.5" fill="rgb(180,180,180)"/><circle cx="179.6" cy="457.0" r="1.1" fill="rgb(206,206,206)"/><circle cx="191.9" cy="488.6" r="1.3" fill="rgb(208,208,208)"/><circle cx="192.0" cy="510.3" r="1.0" fill="rgb(204,204,204)"/><circle cx="194.8" cy="465.1" r="1.0" fill="rgb(210,210,210)"/><circle cx="126.5" cy="555.1" r="1.0" fill="rgb(176,176,176)"/><circle cx="160.9" cy="453.4" r="0.9" fill="rgb(210,210,210)"/><circle cx="156.3" cy="441.9" r="0.9" fill="rgb(186,186,186)"/><circle cx="127.5" cy="546.9" r="0.9" fill="rgb(208,208,208)"/><circle cx="196.5" cy="572.0" r="0.8" fill="rgb(204,204,204)"/><circle cx="204.9" cy="462.4" r="1.4" fill="rgb(184,184,184)"/><circle cx="189.5" cy="461.4" r="0.9" fill="rgb(208,208,208)"/><circle cx="128.4" cy="572.3" r="1.1" fill="rgb(206,206,206)"/><circle cx="153.3" cy="483.0" r="0.8" fill="rgb(210,210,210)"/><circle cx="198.9" cy="484.9" r="1.0" fill="rgb(176,176,176)"/><circle cx="216.9" cy="558.9" r="1.5" fill="rgb(206,206,206)"/><circle cx="231.6" cy="510.8" r="1.5" fill="rgb(208,208,208)"/><circle cx="138.1" cy="536.8" r="0.9" fill="rgb(210,210,210)"/><circle cx="191.1" cy="491.2" r="1.0" fill="rgb(188,188,188)"/><circle cx="181.4" cy="494.1" r="1.0" fill="rgb(186,186,186)"/><circle cx="146.3" cy="578.6" r="1.0" fill="rgb(204,204,204)"/><circle cx="173.3" cy="580.2" r="1.2" fill="rgb(188,188,188)"/><circle cx="167.7" cy="490.9" r="1.0" fill="rgb(210,210,210)"/><circle cx="177.0" cy="576.3" r="1.0" fill="rgb(176,176,176)"/><circle cx="213.7" cy="462.0" r="1.2" fill="rgb(176,176,176)"/><circle cx="139.5" cy="504.0" r="0.7" fill="rgb(186,186,186)"/><circle cx="232.0" cy="511.8" r="0.9" fill="rgb(210,210,210)"/><circle cx="116.4" cy="552.7" r="1.1" fill="rgb(180,180,180)"/><circle cx="139.1" cy="512.9" r="1.0" fill="rgb(204,204,204)"/><circle cx="167.4" cy="546.3" r="0.9" fill="rgb(208,208,208)"/><circle cx="192.3" cy="567.1" r="1.3" fill="rgb(184,184,184)"/><circle cx="132.5" cy="512.2" r="1.3" fill="rgb(176,176,176)"/><circle cx="178.0" cy="495.4" r="1.3" fill="rgb(210,210,210)"/><circle cx="196.5" cy="507.1" r="1.3" fill="rgb(180,180,180)"/><circle cx="164.0" cy="455.6" r="1.1" fill="rgb(210,210,210)"/><circle cx="194.0" cy="435.0" r="1.1" fill="rgb(184,184,184)"/><circle cx="197.0" cy="492.0" r="1.4" fill="rgb(188,188,188)"/><circle cx="177.8" cy="504.2" r="1.3" fill="rgb(176,176,176)"/><circle cx="179.0" cy="574.6" r="1.3" fill="rgb(180,180,180)"/><circle cx="226.7" cy="556.0" r="1.4" fill="rgb(210,210,210)"/><circle cx="217.3" cy="459.6" r="1.2" fill="rgb(188,188,188)"/><circle cx="242.9" cy="506.6" r="1.2" fill="rgb(180,180,180)"/><circle cx="148.8" cy="498.5" r="1.1" fill="rgb(204,204,204)"/><circle cx="171.1" cy="542.5" r="0.7" fill="rgb(206,206,206)"/><circle cx="237.4" cy="520.3" r="1.2" fill="rgb(188,188,188)"/><circle cx="210.9" cy="454.9" r="0.8" fill="rgb(206,206,206)"/><circle cx="126.6" cy="550.0" r="1.0" fill="rgb(184,184,184)"/><circle cx="158.7" cy="522.5" r="0.8" fill="rgb(208,208,208)"/><circle cx="200.4" cy="447.4" r="1.2" fill="rgb(186,186,186)"/><circle cx="135.1" cy="515.3" r="0.9" fill="rgb(186,186,186)"/><circle cx="156.3" cy="575.6" r="0.7" fill="rgb(186,186,186)"/><circle cx="152.5" cy="533.1" r="1.4" fill="rgb(186,186,186)"/><circle cx="187.7" cy="448.5" r="1.5" fill="rgb(188,188,188)"/><circle cx="174.5" cy="531.4" r="1.2" fill="rgb(188,188,188)"/><circle cx="127.1" cy="566.9" r="1.4" fill="rgb(186,186,186)"/><circle cx="182.2" cy="575.4" r="1.2" fill="rgb(206,206,206)"/><circle cx="138.5" cy="574.7" r="0.8" fill="rgb(210,210,210)"/><circle cx="152.6" cy="437.6" r="0.8" fill="rgb(176,176,176)"/><circle cx="230.6" cy="523.7" r="1.3" fill="rgb(180,180,180)"/><circle cx="229.1" cy="541.0" r="1.3" fill="rgb(186,186,186)"/><circle cx="150.5" cy="436.1" r="1.4" fill="rgb(188,188,188)"/><circle cx="161.2" cy="428.5" r="1.5" fill="rgb(210,210,210)"/><circle cx="239.2" cy="469.8" r="1.4" fill="rgb(176,176,176)"/><circle cx="163.0" cy="493.0" r="1.1" fill="rgb(210,210,210)"/><circle cx="185.4" cy="472.2" r="1.2" fill="rgb(184,184,184)"/><circle cx="242.5" cy="504.1" r="1.2" fill="rgb(210,210,210)"/><circle cx="165.1" cy="580.8" r="1.4" fill="rgb(206,206,206)"/><circle cx="248.1" cy="484.2" r="1.4" fill="rgb(208,208,208)"/><circle cx="237.4" cy="471.2" r="0.7" fill="rgb(188,188,188)"/><circle cx="239.3" cy="508.0" r="1.1" fill="rgb(180,180,180)"/><circle cx="153.4" cy="575.0" r="0.8" fill="rgb(180,180,180)"/><circle cx="127.9" cy="570.1" r="1.0" fill="rgb(186,186,186)"/><circle cx="183.4" cy="509.2" r="1.0" fill="rgb(188,188,188)"/><circle cx="239.4" cy="464.2" r="0.7" fill="rgb(186,186,186)"/><circle cx="171.8" cy="491.6" r="1.4" fill="rgb(180,180,180)"/><circle cx="176.1" cy="568.8" r="1.0" fill="rgb(180,180,180)"/><circle cx="215.2" cy="479.6" r="1.0" fill="rgb(206,206,206)"/><circle cx="179.3" cy="550.1" r="1.4" fill="rgb(210,210,210)"/><circle cx="187.0" cy="573.0" r="0.7" fill="rgb(186,186,186)"/><circle cx="181.8" cy="474.6" r="1.1" fill="rgb(206,206,206)"/><circle cx="174.5" cy="555.1" r="0.9" fill="rgb(210,210,210)"/><circle cx="195.2" cy="566.2" r="1.2" fill="rgb(186,186,186)"/><circle cx="213.2" cy="468.3" r="0.9" fill="rgb(184,184,184)"/><circle cx="125.1" cy="528.6" r="1.3" fill="rgb(210,210,210)"/><circle cx="156.9" cy="489.6" r="1.2" fill="rgb(184,184,184)"/><circle cx="184.3" cy="534.7" r="1.5" fill="rgb(184,184,184)"/><circle cx="198.8" cy="444.4" r="0.7" fill="rgb(180,180,180)"/><circle cx="237.1" cy="507.1" r="1.0" fill="rgb(206,206,206)"/><circle cx="164.1" cy="457.5" r="1.1" fill="rgb(206,206,206)"/><circle cx="201.6" cy="521.5" r="1.2" fill="rgb(186,186,186)"/><circle cx="160.1" cy="455.4" r="0.9" fill="rgb(176,176,176)"/><circle cx="135.0" cy="569.8" r="0.9" fill="rgb(176,176,176)"/><circle cx="159.9" cy="491.9" r="1.2" fill="rgb(204,204,204)"/><circle cx="159.8" cy="471.6" r="0.8" fill="rgb(186,186,186)"/><circle cx="126.3" cy="565.2" r="1.2" fill="rgb(188,188,188)"/><circle cx="157.8" cy="431.5" r="1.3" fill="rgb(176,176,176)"/><circle cx="172.4" cy="550.5" r="1.3" fill="rgb(188,188,188)"/><circle cx="169.5" cy="576.2" r="1.0" fill="rgb(210,210,210)"/><circle cx="239.2" cy="510.3" r="0.8" fill="rgb(186,186,186)"/><circle cx="210.5" cy="458.4" r="1.3" fill="rgb(188,188,188)"/><circle cx="169.6" cy="501.4" r="1.0" fill="rgb(184,184,184)"/><circle cx="200.7" cy="492.1" r="0.8" fill="rgb(176,176,176)"/><circle cx="159.8" cy="550.7" r="1.0" fill="rgb(186,186,186)"/><circle cx="159.3" cy="492.4" r="0.9" fill="rgb(180,180,180)"/><circle cx="185.9" cy="460.5" r="1.2" fill="rgb(206,206,206)"/><circle cx="177.3" cy="429.9" r="1.4" fill="rgb(188,188,188)"/><circle cx="238.1" cy="533.3" r="1.2" fill="rgb(188,188,188)"/><circle cx="200.1" cy="568.2" r="1.1" fill="rgb(186,186,186)"/><circle cx="233.4" cy="461.6" r="0.7" fill="rgb(176,176,176)"/><circle cx="163.1" cy="579.9" r="1.1" fill="rgb(188,188,188)"/><circle cx="211.7" cy="553.6" r="1.2" fill="rgb(210,210,210)"/><circle cx="167.2" cy="467.5" r="1.4" fill="rgb(186,186,186)"/><circle cx="190.5" cy="476.4" r="1.0" fill="rgb(176,176,176)"/><circle cx="192.3" cy="571.2" r="0.9" fill="rgb(176,176,176)"/><circle cx="235.6" cy="493.9" r="1.4" fill="rgb(180,180,180)"/><circle cx="155.4" cy="458.4" r="1.4" fill="rgb(176,176,176)"/><circle cx="117.9" cy="535.9" r="0.8" fill="rgb(186,186,186)"/><circle cx="250.0" cy="483.3" r="1.4" fill="rgb(208,208,208)"/><circle cx="239.2" cy="494.3" r="1.4" fill="rgb(186,186,186)"/><circle cx="128.5" cy="521.7" r="0.7" fill="rgb(176,176,176)"/><circle cx="122.7" cy="556.8" r="0.7" fill="rgb(204,204,204)"/><circle cx="218.8" cy="528.4" r="1.2" fill="rgb(208,208,208)"/><circle cx="157.2" cy="578.5" r="1.2" fill="rgb(176,176,176)"/><circle cx="151.0" cy="574.6" r="1.5" fill="rgb(208,208,208)"/><circle cx="182.6" cy="574.8" r="1.4" fill="rgb(184,184,184)"/><circle cx="142.2" cy="509.7" r="1.3" fill="rgb(186,186,186)"/><circle cx="245.7" cy="465.3" r="1.4" fill="rgb(186,186,186)"/><circle cx="186.8" cy="450.3" r="1.4" fill="rgb(210,210,210)"/><circle cx="182.9" cy="463.7" r="1.1" fill="rgb(186,186,186)"/><circle cx="129.3" cy="539.6" r="1.0" fill="rgb(206,206,206)"/><circle cx="131.7" cy="569.8" r="0.7" fill="rgb(208,208,208)"/><circle cx="158.8" cy="473.5" r="1.0" fill="rgb(210,210,210)"/><circle cx="170.4" cy="578.1" r="1.4" fill="rgb(206,206,206)"/><circle cx="235.8" cy="500.0" r="0.8" fill="rgb(180,180,180)"/><circle cx="172.4" cy="527.1" r="1.4" fill="rgb(176,176,176)"/><circle cx="198.3" cy="478.9" r="0.9" fill="rgb(210,210,210)"/><circle cx="178.6" cy="572.6" r="1.1" fill="rgb(210,210,210)"/><circle cx="201.4" cy="441.9" r="0.7" fill="rgb(208,208,208)"/><circle cx="224.2" cy="511.4" r="0.8" fill="rgb(208,208,208)"/><circle cx="147.4" cy="572.1" r="0.7" fill="rgb(180,180,180)"/><circle cx="142.1" cy="577.2" r="1.4" fill="rgb(208,208,208)"/><circle cx="231.4" cy="544.3" r="1.3" fill="rgb(210,210,210)"/><circle cx="163.1" cy="494.7" r="0.9" fill="rgb(186,186,186)"/><circle cx="196.8" cy="433.2" r="1.0" fill="rgb(180,180,180)"/><circle cx="156.0" cy="464.3" r="0.8" fill="rgb(184,184,184)"/><circle cx="210.3" cy="563.1" r="1.3" fill="rgb(176,176,176)"/><circle cx="215.9" cy="558.0" r="1.1" fill="rgb(210,210,210)"/><circle cx="159.9" cy="512.0" r="1.3" fill="rgb(210,210,210)"/><circle cx="180.6" cy="426.8" r="1.3" fill="rgb(188,188,188)"/><circle cx="179.6" cy="508.2" r="1.3" fill="rgb(184,184,184)"/><circle cx="202.7" cy="558.0" r="1.2" fill="rgb(180,180,180)"/><circle cx="240.5" cy="488.6" r="1.2" fill="rgb(210,210,210)"/><circle cx="214.0" cy="527.4" r="0.9" fill="rgb(210,210,210)"/><circle cx="215.6" cy="514.1" r="0.7" fill="rgb(180,180,180)"/><circle cx="242.3" cy="465.8" r="1.1" fill="rgb(184,184,184)"/><circle cx="165.4" cy="571.6" r="1.2" fill="rgb(184,184,184)"/><circle cx="199.4" cy="504.0" r="1.4" fill="rgb(204,204,204)"/><circle cx="188.7" cy="494.5" r="1.0" fill="rgb(180,180,180)"/><circle cx="178.6" cy="458.6" r="1.3" fill="rgb(206,206,206)"/><circle cx="126.8" cy="555.4" r="0.8" fill="rgb(186,186,186)"/><circle cx="236.8" cy="503.5" r="1.2" fill="rgb(186,186,186)"/><circle cx="119.8" cy="530.1" r="1.3" fill="rgb(206,206,206)"/><circle cx="183.2" cy="457.1" r="1.1" fill="rgb(204,204,204)"/><circle cx="177.0" cy="556.1" r="1.4" fill="rgb(204,204,204)"/><circle cx="211.0" cy="565.7" r="1.3" fill="rgb(176,176,176)"/><circle cx="199.4" cy="459.6" r="1.2" fill="rgb(208,208,208)"/><circle cx="208.8" cy="462.9" r="1.0" fill="rgb(176,176,176)"/><circle cx="227.5" cy="469.7" r="1.0" fill="rgb(184,184,184)"/><circle cx="228.3" cy="539.0" r="0.8" fill="rgb(206,206,206)"/><circle cx="215.1" cy="480.5" r="0.8" fill="rgb(188,188,188)"/><circle cx="225.0" cy="467.6" r="0.9" fill="rgb(186,186,186)"/><circle cx="165.0" cy="474.7" r="0.7" fill="rgb(210,210,210)"/><circle cx="178.1" cy="574.6" r="1.3" fill="rgb(204,204,204)"/><circle cx="154.5" cy="486.5" r="1.0" fill="rgb(188,188,188)"/><circle cx="170.4" cy="434.9" r="1.0" fill="rgb(210,210,210)"/><circle cx="121.0" cy="550.9" r="1.2" fill="rgb(186,186,186)"/><circle cx="164.1" cy="436.1" r="1.2" fill="rgb(176,176,176)"/><circle cx="119.3" cy="554.8" r="1.0" fill="rgb(210,210,210)"/><circle cx="164.2" cy="457.8" r="0.7" fill="rgb(186,186,186)"/><circle cx="154.4" cy="447.8" r="0.9" fill="rgb(204,204,204)"/><circle cx="218.2" cy="562.0" r="1.5" fill="rgb(206,206,206)"/><circle cx="207.3" cy="550.6" r="1.0" fill="rgb(186,186,186)"/><circle cx="233.8" cy="473.3" r="0.8" fill="rgb(186,186,186)"/><circle cx="160.3" cy="480.5" r="0.9" fill="rgb(210,210,210)"/><circle cx="205.7" cy="450.3" r="0.8" fill="rgb(208,208,208)"/><circle cx="247.9" cy="494.5" r="1.2" fill="rgb(176,176,176)"/><circle cx="194.9" cy="565.3" r="1.4" fill="rgb(184,184,184)"/><circle cx="173.2" cy="547.3" r="1.4" fill="rgb(206,206,206)"/><circle cx="158.3" cy="457.1" r="0.9" fill="rgb(208,208,208)"/><circle cx="169.4" cy="431.3" r="1.0" fill="rgb(210,210,210)"/><circle cx="239.5" cy="512.7" r="1.1" fill="rgb(180,180,180)"/><circle cx="177.4" cy="541.4" r="1.3" fill="rgb(204,204,204)"/><circle cx="216.8" cy="529.4" r="0.9" fill="rgb(206,206,206)"/><circle cx="180.8" cy="532.4" r="0.7" fill="rgb(184,184,184)"/><circle cx="142.8" cy="561.7" r="1.2" fill="rgb(210,210,210)"/><circle cx="199.8" cy="438.0" r="1.4" fill="rgb(188,188,188)"/><circle cx="246.4" cy="466.6" r="1.1" fill="rgb(176,176,176)"/><circle cx="170.8" cy="508.3" r="1.0" fill="rgb(180,180,180)"/><circle cx="145.4" cy="540.0" r="0.9" fill="rgb(188,188,188)"/><circle cx="172.5" cy="545.9" r="0.9" fill="rgb(210,210,210)"/><circle cx="156.7" cy="483.3" r="1.2" fill="rgb(210,210,210)"/><circle cx="159.2" cy="457.8" r="1.5" fill="rgb(176,176,176)"/><circle cx="220.0" cy="480.2" r="1.4" fill="rgb(204,204,204)"/><circle cx="122.4" cy="533.7" r="0.8" fill="rgb(186,186,186)"/><circle cx="194.7" cy="574.5" r="1.2" fill="rgb(176,176,176)"/><circle cx="236.6" cy="461.1" r="1.4" fill="rgb(176,176,176)"/><circle cx="138.1" cy="523.1" r="0.7" fill="rgb(186,186,186)"/><circle cx="162.6" cy="439.7" r="1.0" fill="rgb(186,186,186)"/><circle cx="152.1" cy="487.3" r="1.3" fill="rgb(180,180,180)"/><circle cx="191.9" cy="535.1" r="0.8" fill="rgb(188,188,188)"/><circle cx="218.6" cy="518.9" r="0.8" fill="rgb(206,206,206)"/><circle cx="208.7" cy="531.8" r="1.0" fill="rgb(208,208,208)"/><circle cx="185.2" cy="530.3" r="1.3" fill="rgb(208,208,208)"/><circle cx="155.7" cy="472.9" r="0.7" fill="rgb(204,204,204)"/><circle cx="220.5" cy="560.4" r="1.4" fill="rgb(176,176,176)"/><circle cx="182.6" cy="524.3" r="1.3" fill="rgb(180,180,180)"/><circle cx="178.4" cy="573.1" r="0.8" fill="rgb(186,186,186)"/><circle cx="151.9" cy="535.3" r="1.3" fill="rgb(176,176,176)"/><circle cx="158.9" cy="436.0" r="1.3" fill="rgb(206,206,206)"/><circle cx="194.7" cy="436.2" r="1.0" fill="rgb(186,186,186)"/><circle cx="211.6" cy="562.1" r="1.0" fill="rgb(204,204,204)"/><circle cx="182.1" cy="571.2" r="0.8" fill="rgb(210,210,210)"/><circle cx="201.2" cy="472.3" r="0.9" fill="rgb(208,208,208)"/><circle cx="248.9" cy="484.2" r="1.5" fill="rgb(206,206,206)"/><circle cx="155.8" cy="580.2" r="1.5" fill="rgb(180,180,180)"/><circle cx="208.7" cy="449.7" r="0.9" fill="rgb(176,176,176)"/><circle cx="232.9" cy="462.8" r="0.7" fill="rgb(184,184,184)"/><circle cx="159.8" cy="538.7" r="1.0" fill="rgb(176,176,176)"/><circle cx="225.5" cy="536.2" r="0.7" fill="rgb(176,176,176)"/><circle cx="126.8" cy="556.9" r="1.1" fill="rgb(176,176,176)"/><circle cx="125.6" cy="564.8" r="0.8" fill="rgb(184,184,184)"/><circle cx="135.2" cy="512.7" r="1.3" fill="rgb(186,186,186)"/><circle cx="139.9" cy="558.7" r="1.2" fill="rgb(186,186,186)"/><circle cx="200.0" cy="571.5" r="1.2" fill="rgb(210,210,210)"/><circle cx="127.7" cy="534.1" r="1.5" fill="rgb(210,210,210)"/><circle cx="148.4" cy="495.8" r="0.9" fill="rgb(186,186,186)"/><circle cx="154.4" cy="561.5" r="0.9" fill="rgb(208,208,208)"/><circle cx="201.7" cy="447.5" r="0.7" fill="rgb(184,184,184)"/><circle cx="124.2" cy="556.1" r="0.7" fill="rgb(176,176,176)"/><circle cx="225.4" cy="557.2" r="0.8" fill="rgb(206,206,206)"/><circle cx="168.4" cy="494.4" r="1.3" fill="rgb(176,176,176)"/><circle cx="120.4" cy="552.0" r="1.4" fill="rgb(180,180,180)"/><circle cx="161.3" cy="462.0" r="1.3" fill="rgb(184,184,184)"/><circle cx="120.5" cy="530.9" r="0.9" fill="rgb(204,204,204)"/><circle cx="178.6" cy="450.8" r="1.3" fill="rgb(176,176,176)"/><circle cx="231.5" cy="542.9" r="1.4" fill="rgb(208,208,208)"/><circle cx="190.2" cy="558.3" r="1.2" fill="rgb(180,180,180)"/><circle cx="172.1" cy="513.7" r="1.1" fill="rgb(204,204,204)"/><circle cx="156.2" cy="579.2" r="0.9" fill="rgb(184,184,184)"/><circle cx="151.9" cy="537.6" r="1.0" fill="rgb(204,204,204)"/><circle cx="149.9" cy="554.6" r="1.0" fill="rgb(186,186,186)"/><circle cx="122.5" cy="552.6" r="1.4" fill="rgb(180,180,180)"/><circle cx="245.6" cy="473.1" r="0.8" fill="rgb(206,206,206)"/><circle cx="147.5" cy="557.0" r="1.4" fill="rgb(208,208,208)"/><circle cx="132.1" cy="524.7" r="0.8" fill="rgb(186,186,186)"/><circle cx="204.2" cy="464.4" r="1.0" fill="rgb(206,206,206)"/><circle cx="197.7" cy="466.9" r="1.4" fill="rgb(188,188,188)"/><circle cx="158.3" cy="454.1" r="1.2" fill="rgb(210,210,210)"/><circle cx="139.6" cy="509.8" r="0.8" fill="rgb(210,210,210)"/><circle cx="188.4" cy="468.4" r="0.9" fill="rgb(210,210,210)"/><circle cx="217.0" cy="460.1" r="0.8" fill="rgb(176,176,176)"/><circle cx="207.4" cy="469.8" r="1.4" fill="rgb(188,188,188)"/><circle cx="157.6" cy="559.1" r="1.0" fill="rgb(204,204,204)"/><circle cx="117.0" cy="537.9" r="1.1" fill="rgb(180,180,180)"/><circle cx="196.1" cy="497.4" r="0.9" fill="rgb(208,208,208)"/><circle cx="162.2" cy="575.3" r="1.3" fill="rgb(204,204,204)"/><circle cx="177.6" cy="579.2" r="1.2" fill="rgb(206,206,206)"/><circle cx="180.3" cy="545.4" r="1.4" fill="rgb(206,206,206)"/><circle cx="133.8" cy="569.5" r="0.9" fill="rgb(184,184,184)"/><circle cx="156.3" cy="481.4" r="1.2" fill="rgb(180,180,180)"/><circle cx="202.4" cy="502.3" r="0.7" fill="rgb(210,210,210)"/><circle cx="229.8" cy="489.1" r="1.4" fill="rgb(206,206,206)"/><circle cx="168.2" cy="445.6" r="0.8" fill="rgb(188,188,188)"/><circle cx="152.2" cy="579.5" r="0.9" fill="rgb(188,188,188)"/><circle cx="227.4" cy="482.3" r="1.4" fill="rgb(210,210,210)"/><circle cx="151.1" cy="499.7" r="1.0" fill="rgb(180,180,180)"/><circle cx="188.1" cy="488.2" r="0.8" fill="rgb(188,188,188)"/><circle cx="236.2" cy="493.7" r="0.8" fill="rgb(180,180,180)"/><circle cx="200.2" cy="566.8" r="0.9" fill="rgb(184,184,184)"/><circle cx="245.6" cy="494.8" r="0.9" fill="rgb(206,206,206)"/><circle cx="175.3" cy="484.0" r="1.1" fill="rgb(188,188,188)"/><circle cx="194.8" cy="533.3" r="1.0" fill="rgb(208,208,208)"/><circle cx="197.0" cy="443.1" r="1.0" fill="rgb(188,188,188)"/><circle cx="155.3" cy="482.0" r="0.8" fill="rgb(204,204,204)"/><circle cx="182.5" cy="546.3" r="0.7" fill="rgb(186,186,186)"/><circle cx="122.0" cy="566.3" r="1.1" fill="rgb(176,176,176)"/><circle cx="158.1" cy="444.3" r="1.3" fill="rgb(184,184,184)"/><circle cx="193.9" cy="477.9" r="1.5" fill="rgb(184,184,184)"/><circle cx="189.0" cy="449.0" r="0.9" fill="rgb(186,186,186)"/><circle cx="192.5" cy="513.9" r="1.3" fill="rgb(188,188,188)"/><circle cx="142.1" cy="571.3" r="0.9" fill="rgb(208,208,208)"/><circle cx="201.6" cy="447.0" r="1.0" fill="rgb(180,180,180)"/><circle cx="134.4" cy="568.2" r="0.8" fill="rgb(180,180,180)"/><circle cx="187.5" cy="505.6" r="1.1" fill="rgb(176,176,176)"/><circle cx="117.6" cy="555.0" r="1.3" fill="rgb(208,208,208)"/><circle cx="215.8" cy="456.3" r="1.4" fill="rgb(208,208,208)"/><circle cx="197.9" cy="451.8" r="1.3" fill="rgb(180,180,180)"/><circle cx="181.5" cy="432.8" r="1.2" fill="rgb(188,188,188)"/><circle cx="215.5" cy="556.6" r="0.7" fill="rgb(206,206,206)"/><circle cx="127.9" cy="530.3" r="1.2" fill="rgb(188,188,188)"/><circle cx="217.8" cy="460.1" r="1.2" fill="rgb(206,206,206)"/><circle cx="159.0" cy="451.9" r="1.4" fill="rgb(176,176,176)"/><circle cx="213.4" cy="528.2" r="1.5" fill="rgb(186,186,186)"/><circle cx="212.9" cy="549.2" r="0.7" fill="rgb(210,210,210)"/><circle cx="179.9" cy="509.4" r="1.3" fill="rgb(176,176,176)"/><circle cx="243.7" cy="493.8" r="1.4" fill="rgb(208,208,208)"/><circle cx="164.1" cy="498.7" r="1.2" fill="rgb(180,180,180)"/><circle cx="195.8" cy="572.6" r="1.0" fill="rgb(210,210,210)"/><circle cx="149.7" cy="517.3" r="1.3" fill="rgb(180,180,180)"/><circle cx="163.8" cy="561.7" r="1.5" fill="rgb(208,208,208)"/><circle cx="199.7" cy="468.4" r="1.4" fill="rgb(186,186,186)"/><circle cx="170.2" cy="579.7" r="1.0" fill="rgb(210,210,210)"/><circle cx="148.6" cy="567.5" r="1.3" fill="rgb(206,206,206)"/><circle cx="154.0" cy="580.1" r="1.0" fill="rgb(188,188,188)"/><circle cx="214.7" cy="495.9" r="1.3" fill="rgb(208,208,208)"/><circle cx="125.3" cy="523.6" r="0.9" fill="rgb(188,188,188)"/><circle cx="224.1" cy="506.0" r="1.4" fill="rgb(208,208,208)"/><circle cx="204.8" cy="501.3" r="0.7" fill="rgb(208,208,208)"/><circle cx="159.9" cy="556.7" r="0.8" fill="rgb(184,184,184)"/><circle cx="151.4" cy="574.9" r="0.9" fill="rgb(210,210,210)"/><circle cx="196.8" cy="520.6" r="1.0" fill="rgb(210,210,210)"/><circle cx="181.3" cy="531.4" r="1.3" fill="rgb(186,186,186)"/><circle cx="240.3" cy="478.3" r="0.9" fill="rgb(206,206,206)"/><circle cx="200.2" cy="493.8" r="1.0" fill="rgb(204,204,204)"/><circle cx="139.6" cy="516.9" r="1.4" fill="rgb(188,188,188)"/><circle cx="139.8" cy="514.7" r="1.3" fill="rgb(186,186,186)"/><circle cx="203.0" cy="520.3" r="1.2" fill="rgb(180,180,180)"/><circle cx="188.8" cy="503.5" r="0.8" fill="rgb(210,210,210)"/><circle cx="226.8" cy="552.9" r="1.1" fill="rgb(180,180,180)"/><circle cx="177.2" cy="543.6" r="1.4" fill="rgb(204,204,204)"/><circle cx="136.4" cy="569.5" r="1.2" fill="rgb(204,204,204)"/><circle cx="231.4" cy="538.8" r="1.3" fill="rgb(184,184,184)"/><circle cx="166.8" cy="464.2" r="1.2" fill="rgb(206,206,206)"/><circle cx="197.7" cy="538.9" r="1.3" fill="rgb(186,186,186)"/><circle cx="192.6" cy="443.1" r="1.4" fill="rgb(180,180,180)"/><circle cx="120.6" cy="559.2" r="1.2" fill="rgb(188,188,188)"/><circle cx="133.6" cy="570.7" r="1.1" fill="rgb(210,210,210)"/><circle cx="172.5" cy="487.6" r="1.1" fill="rgb(204,204,204)"/><circle cx="218.4" cy="499.9" r="0.9" fill="rgb(188,188,188)"/><circle cx="190.2" cy="564.5" r="0.8" fill="rgb(204,204,204)"/><circle cx="187.7" cy="431.0" r="1.5" fill="rgb(210,210,210)"/><circle cx="166.5" cy="547.3" r="0.9" fill="rgb(210,210,210)"/><circle cx="142.3" cy="553.7" r="1.5" fill="rgb(188,188,188)"/><circle cx="185.8" cy="453.9" r="0.9" fill="rgb(184,184,184)"/><circle cx="158.7" cy="474.0" r="0.7" fill="rgb(208,208,208)"/><circle cx="191.4" cy="559.1" r="1.0" fill="rgb(206,206,206)"/><circle cx="140.0" cy="574.9" r="0.9" fill="rgb(206,206,206)"/><circle cx="184.5" cy="523.6" r="1.1" fill="rgb(204,204,204)"/><circle cx="154.8" cy="457.6" r="1.1" fill="rgb(188,188,188)"/><circle cx="230.5" cy="537.4" r="1.4" fill="rgb(206,206,206)"/><circle cx="189.3" cy="561.9" r="1.5" fill="rgb(188,188,188)"/><circle cx="232.0" cy="463.1" r="1.3" fill="rgb(184,184,184)"/><circle cx="160.5" cy="480.4" r="1.3" fill="rgb(188,188,188)"/><circle cx="199.7" cy="545.8" r="1.3" fill="rgb(180,180,180)"/><circle cx="123.8" cy="562.4" r="1.2" fill="rgb(184,184,184)"/><circle cx="177.4" cy="543.8" r="1.0" fill="rgb(188,188,188)"/><circle cx="123.4" cy="541.3" r="1.5" fill="rgb(180,180,180)"/><circle cx="143.1" cy="569.8" r="0.8" fill="rgb(176,176,176)"/><circle cx="229.9" cy="547.6" r="0.8" fill="rgb(208,208,208)"/><circle cx="183.9" cy="438.6" r="1.0" fill="rgb(176,176,176)"/><circle cx="229.2" cy="544.8" r="0.9" fill="rgb(186,186,186)"/><circle cx="208.5" cy="506.0" r="1.2" fill="rgb(186,186,186)"/><circle cx="239.7" cy="523.3" r="1.4" fill="rgb(180,180,180)"/><circle cx="140.6" cy="503.6" r="1.3" fill="rgb(208,208,208)"/><circle cx="163.1" cy="432.1" r="0.7" fill="rgb(184,184,184)"/><circle cx="232.5" cy="521.6" r="0.9" fill="rgb(180,180,180)"/><circle cx="234.3" cy="485.9" r="0.8" fill="rgb(186,186,186)"/><circle cx="230.6" cy="545.6" r="1.2" fill="rgb(206,206,206)"/><circle cx="186.8" cy="433.9" r="1.3" fill="rgb(184,184,184)"/><circle cx="129.0" cy="571.7" r="1.4" fill="rgb(176,176,176)"/><circle cx="248.8" cy="474.9" r="1.4" fill="rgb(204,204,204)"/><circle cx="185.7" cy="515.0" r="1.1" fill="rgb(208,208,208)"/><circle cx="224.4" cy="542.2" r="1.5" fill="rgb(188,188,188)"/><circle cx="210.2" cy="566.8" r="1.4" fill="rgb(204,204,204)"/><circle cx="229.9" cy="470.8" r="1.1" fill="rgb(208,208,208)"/><circle cx="201.2" cy="568.3" r="1.5" fill="rgb(206,206,206)"/><circle cx="234.6" cy="476.1" r="1.3" fill="rgb(210,210,210)"/><circle cx="140.5" cy="510.8" r="0.9" fill="rgb(206,206,206)"/><circle cx="174.3" cy="434.8" r="1.5" fill="rgb(210,210,210)"/><circle cx="160.4" cy="502.3" r="1.0" fill="rgb(188,188,188)"/><circle cx="217.8" cy="560.3" r="0.8" fill="rgb(180,180,180)"/><circle cx="187.4" cy="571.6" r="1.4" fill="rgb(176,176,176)"/><circle cx="231.2" cy="533.8" r="0.8" fill="rgb(180,180,180)"/><circle cx="125.4" cy="565.3" r="1.5" fill="rgb(176,176,176)"/><circle cx="166.8" cy="545.3" r="0.8" fill="rgb(210,210,210)"/><circle cx="234.3" cy="479.8" r="0.7" fill="rgb(188,188,188)"/><circle cx="181.0" cy="513.6" r="0.7" fill="rgb(204,204,204)"/><circle cx="208.4" cy="480.7" r="1.1" fill="rgb(204,204,204)"/><circle cx="154.8" cy="436.8" r="1.0" fill="rgb(204,204,204)"/><circle cx="224.5" cy="557.7" r="0.8" fill="rgb(176,176,176)"/><circle cx="224.2" cy="556.6" r="1.2" fill="rgb(186,186,186)"/><circle cx="175.4" cy="577.8" r="1.4" fill="rgb(180,180,180)"/><circle cx="202.7" cy="546.0" r="0.9" fill="rgb(188,188,188)"/><circle cx="133.3" cy="555.0" r="0.8" fill="rgb(208,208,208)"/><circle cx="223.0" cy="488.0" r="1.4" fill="rgb(210,210,210)"/><circle cx="215.9" cy="549.6" r="1.5" fill="rgb(208,208,208)"/><circle cx="175.3" cy="512.0" r="1.3" fill="rgb(210,210,210)"/><circle cx="235.8" cy="505.7" r="1.2" fill="rgb(186,186,186)"/><circle cx="212.9" cy="496.7" r="0.7" fill="rgb(188,188,188)"/><circle cx="218.4" cy="519.9" r="1.4" fill="rgb(188,188,188)"/><circle cx="167.4" cy="552.1" r="1.3" fill="rgb(188,188,188)"/><circle cx="197.9" cy="467.6" r="1.5" fill="rgb(176,176,176)"/><circle cx="249.8" cy="491.3" r="1.3" fill="rgb(188,188,188)"/><circle cx="177.1" cy="485.2" r="1.0" fill="rgb(208,208,208)"/><circle cx="124.8" cy="560.3" r="0.9" fill="rgb(176,176,176)"/><circle cx="172.0" cy="500.1" r="0.9" fill="rgb(210,210,210)"/><circle cx="219.6" cy="490.0" r="1.3" fill="rgb(210,210,210)"/><circle cx="211.0" cy="542.7" r="0.8" fill="rgb(204,204,204)"/><circle cx="169.7" cy="453.3" r="1.3" fill="rgb(206,206,206)"/><circle cx="244.1" cy="462.8" r="0.8" fill="rgb(188,188,188)"/><circle cx="175.5" cy="562.9" r="0.8" fill="rgb(186,186,186)"/><circle cx="139.3" cy="507.1" r="0.9" fill="rgb(180,180,180)"/><circle cx="203.0" cy="570.7" r="1.3" fill="rgb(208,208,208)"/><circle cx="134.6" cy="541.2" r="1.5" fill="rgb(188,188,188)"/><circle cx="227.7" cy="516.0" r="1.4" fill="rgb(204,204,204)"/><circle cx="241.3" cy="484.3" r="0.9" fill="rgb(206,206,206)"/><circle cx="221.9" cy="545.2" r="0.7" fill="rgb(186,186,186)"/><circle cx="154.3" cy="447.3" r="1.1" fill="rgb(208,208,208)"/><circle cx="187.3" cy="501.7" r="1.2" fill="rgb(208,208,208)"/><circle cx="182.4" cy="498.5" r="1.2" fill="rgb(206,206,206)"/><circle cx="182.6" cy="522.1" r="1.2" fill="rgb(180,180,180)"/><circle cx="176.0" cy="540.2" r="0.8" fill="rgb(210,210,210)"/><circle cx="158.1" cy="577.3" r="1.3" fill="rgb(208,208,208)"/><circle cx="159.0" cy="554.5" r="1.5" fill="rgb(176,176,176)"/><circle cx="222.7" cy="496.2" r="1.3" fill="rgb(206,206,206)"/><circle cx="182.7" cy="449.0" r="1.0" fill="rgb(208,208,208)"/><circle cx="159.9" cy="580.4" r="1.2" fill="rgb(180,180,180)"/><circle cx="125.4" cy="559.3" r="0.9" fill="rgb(188,188,188)"/><circle cx="186.5" cy="459.3" r="1.3" fill="rgb(210,210,210)"/><circle cx="215.8" cy="553.1" r="1.0" fill="rgb(208,208,208)"/><circle cx="180.4" cy="458.8" r="0.8" fill="rgb(186,186,186)"/><circle cx="150.9" cy="567.6" r="1.1" fill="rgb(180,180,180)"/><circle cx="194.8" cy="440.3" r="1.2" fill="rgb(204,204,204)"/><circle cx="174.7" cy="426.6" r="0.8" fill="rgb(176,176,176)"/><circle cx="156.8" cy="474.0" r="0.9" fill="rgb(206,206,206)"/><circle cx="228.6" cy="491.3" r="0.8" fill="rgb(186,186,186)"/><circle cx="243.6" cy="470.2" r="0.8" fill="rgb(206,206,206)"/><circle cx="193.7" cy="506.8" r="1.4" fill="rgb(180,180,180)"/><circle cx="233.4" cy="529.5" r="0.7" fill="rgb(186,186,186)"/><circle cx="160.2" cy="455.4" r="1.4" fill="rgb(188,188,188)"/><circle cx="157.9" cy="574.2" r="1.2" fill="rgb(210,210,210)"/><circle cx="185.2" cy="516.0" r="1.3" fill="rgb(208,208,208)"/><circle cx="135.2" cy="523.2" r="1.4" fill="rgb(204,204,204)"/><circle cx="206.7" cy="531.7" r="1.2" fill="rgb(208,208,208)"/><circle cx="162.7" cy="440.9" r="1.0" fill="rgb(176,176,176)"/><circle cx="210.6" cy="455.2" r="0.9" fill="rgb(208,208,208)"/><circle cx="172.5" cy="464.1" r="1.0" fill="rgb(188,188,188)"/><circle cx="242.6" cy="483.7" r="0.8" fill="rgb(204,204,204)"/><circle cx="127.1" cy="522.9" r="0.8" fill="rgb(180,180,180)"/><circle cx="183.6" cy="505.2" r="1.4" fill="rgb(204,204,204)"/><circle cx="123.8" cy="561.5" r="0.9" fill="rgb(210,210,210)"/><circle cx="219.1" cy="553.3" r="1.2" fill="rgb(188,188,188)"/><circle cx="248.7" cy="479.6" r="1.1" fill="rgb(186,186,186)"/><circle cx="234.1" cy="466.2" r="0.7" fill="rgb(210,210,210)"/><circle cx="184.5" cy="479.9" r="0.9" fill="rgb(188,188,188)"/><circle cx="169.3" cy="459.6" r="1.3" fill="rgb(180,180,180)"/><circle cx="223.4" cy="548.1" r="0.7" fill="rgb(186,186,186)"/><circle cx="188.7" cy="566.1" r="1.4" fill="rgb(204,204,204)"/><circle cx="156.9" cy="441.1" r="1.2" fill="rgb(188,188,188)"/><circle cx="134.3" cy="508.8" r="1.2" fill="rgb(204,204,204)"/><circle cx="201.5" cy="506.4" r="1.4" fill="rgb(206,206,206)"/><circle cx="176.7" cy="493.7" r="0.9" fill="rgb(176,176,176)"/><circle cx="219.3" cy="525.4" r="0.9" fill="rgb(206,206,206)"/><circle cx="118.6" cy="562.4" r="1.5" fill="rgb(206,206,206)"/><circle cx="225.9" cy="494.7" r="1.2" fill="rgb(204,204,204)"/><circle cx="134.5" cy="515.8" r="1.2" fill="rgb(210,210,210)"/><circle cx="212.4" cy="519.8" r="1.1" fill="rgb(188,188,188)"/><circle cx="173.9" cy="462.6" r="1.1" fill="rgb(180,180,180)"/><circle cx="208.9" cy="562.6" r="1.0" fill="rgb(208,208,208)"/><circle cx="187.2" cy="467.3" r="1.4" fill="rgb(208,208,208)"/><circle cx="227.9" cy="542.7" r="1.2" fill="rgb(176,176,176)"/><circle cx="228.1" cy="497.5" r="0.9" fill="rgb(186,186,186)"/><circle cx="242.3" cy="507.0" r="1.3" fill="rgb(184,184,184)"/><circle cx="146.1" cy="518.4" r="0.7" fill="rgb(180,180,180)"/><circle cx="132.8" cy="568.3" r="1.2" fill="rgb(208,208,208)"/><circle cx="216.4" cy="457.7" r="1.4" fill="rgb(210,210,210)"/><circle cx="153.2" cy="500.0" r="0.8" fill="rgb(184,184,184)"/><circle cx="129.0" cy="566.9" r="1.1" fill="rgb(176,176,176)"/><circle cx="229.5" cy="466.7" r="0.9" fill="rgb(176,176,176)"/><circle cx="186.6" cy="535.8" r="1.0" fill="rgb(180,180,180)"/><circle cx="177.5" cy="547.5" r="1.0" fill="rgb(188,188,188)"/><circle cx="139.2" cy="551.7" r="0.9" fill="rgb(180,180,180)"/><circle cx="199.6" cy="446.5" r="0.8" fill="rgb(184,184,184)"/><circle cx="220.3" cy="549.1" r="1.2" fill="rgb(204,204,204)"/><circle cx="216.3" cy="493.2" r="1.5" fill="rgb(186,186,186)"/><circle cx="67.6" cy="414.0" r="1.0" fill="rgb(176,176,176)"/><circle cx="40.5" cy="365.0" r="1.4" fill="rgb(180,180,180)"/><circle cx="59.3" cy="403.3" r="1.0" fill="rgb(186,186,186)"/><circle cx="42.6" cy="447.4" r="1.3" fill="rgb(186,186,186)"/><circle cx="50.9" cy="445.0" r="1.4" fill="rgb(186,186,186)"/><circle cx="50.5" cy="368.5" r="1.4" fill="rgb(204,204,204)"/><circle cx="51.6" cy="444.6" r="0.7" fill="rgb(186,186,186)"/><circle cx="40.2" cy="387.7" r="0.9" fill="rgb(176,176,176)"/><circle cx="40.1" cy="377.6" r="0.7" fill="rgb(206,206,206)"/><circle cx="68.5" cy="403.9" r="0.9" fill="rgb(176,176,176)"/><circle cx="41.9" cy="425.9" r="1.5" fill="rgb(176,176,176)"/><circle cx="49.5" cy="375.0" r="1.4" fill="rgb(184,184,184)"/><circle cx="58.1" cy="428.6" r="1.3" fill="rgb(208,208,208)"/><circle cx="58.6" cy="407.3" r="1.4" fill="rgb(208,208,208)"/><circle cx="67.7" cy="410.3" r="1.4" fill="rgb(206,206,206)"/><circle cx="55.7" cy="438.1" r="1.5" fill="rgb(208,208,208)"/><circle cx="51.9" cy="392.4" r="1.2" fill="rgb(206,206,206)"/><circle cx="55.9" cy="435.6" r="0.7" fill="rgb(184,184,184)"/><circle cx="42.2" cy="368.8" r="1.4" fill="rgb(186,186,186)"/><circle cx="60.3" cy="391.0" r="1.4" fill="rgb(188,188,188)"/><circle cx="53.1" cy="437.7" r="0.8" fill="rgb(206,206,206)"/><circle cx="43.5" cy="378.2" r="1.5" fill="rgb(180,180,180)"/><circle cx="50.1" cy="387.0" r="0.8" fill="rgb(206,206,206)"/><circle cx="47.8" cy="446.0" r="0.8" fill="rgb(210,210,210)"/><circle cx="46.8" cy="449.4" r="0.8" fill="rgb(208,208,208)"/><circle cx="47.2" cy="388.9" r="1.4" fill="rgb(204,204,204)"/><circle cx="50.9" cy="443.1" r="1.2" fill="rgb(188,188,188)"/><circle cx="50.8" cy="373.8" r="1.5" fill="rgb(180,180,180)"/><circle cx="49.4" cy="370.5" r="1.2" fill="rgb(180,180,180)"/><circle cx="47.4" cy="377.1" r="1.5" fill="rgb(184,184,184)"/><circle cx="49.0" cy="443.5" r="0.9" fill="rgb(180,180,180)"/><circle cx="65.7" cy="415.0" r="1.0" fill="rgb(210,210,210)"/><circle cx="44.3" cy="440.1" r="1.0" fill="rgb(204,204,204)"/><circle cx="48.4" cy="436.0" r="0.7" fill="rgb(180,180,180)"/><circle cx="69.9" cy="405.2" r="1.4" fill="rgb(176,176,176)"/><circle cx="67.1" cy="406.6" r="1.0" fill="rgb(186,186,186)"/><circle cx="42.4" cy="374.5" r="1.2" fill="rgb(176,176,176)"/><circle cx="44.0" cy="370.2" r="1.0" fill="rgb(186,186,186)"/><circle cx="41.6" cy="445.1" r="0.9" fill="rgb(208,208,208)"/><circle cx="41.2" cy="438.1" r="1.3" fill="rgb(176,176,176)"/><circle cx="61.7" cy="431.1" r="1.3" fill="rgb(186,186,186)"/><circle cx="41.6" cy="443.7" r="0.8" fill="rgb(184,184,184)"/><circle cx="42.0" cy="370.0" r="0.9" fill="rgb(206,206,206)"/><circle cx="42.4" cy="390.7" r="1.2" fill="rgb(188,188,188)"/><circle cx="60.7" cy="409.1" r="0.7" fill="rgb(208,208,208)"/><circle cx="41.1" cy="401.2" r="1.3" fill="rgb(206,206,206)"/><circle cx="40.6" cy="425.2" r="1.4" fill="rgb(204,204,204)"/><circle cx="61.6" cy="426.3" r="0.8" fill="rgb(186,186,186)"/><circle cx="62.3" cy="416.1" r="0.7" fill="rgb(180,180,180)"/><circle cx="48.3" cy="446.1" r="1.1" fill="rgb(208,208,208)"/><circle cx="56.0" cy="426.7" r="0.8" fill="rgb(176,176,176)"/><circle cx="54.3" cy="387.4" r="1.1" fill="rgb(206,206,206)"/><circle cx="51.4" cy="425.2" r="1.0" fill="rgb(208,208,208)"/><circle cx="62.4" cy="385.1" r="1.2" fill="rgb(180,180,180)"/><circle cx="58.9" cy="407.3" r="1.2" fill="rgb(176,176,176)"/><circle cx="42.0" cy="412.8" r="0.8" fill="rgb(184,184,184)"/><circle cx="44.5" cy="378.7" r="1.2" fill="rgb(180,180,180)"/><circle cx="59.1" cy="376.2" r="1.4" fill="rgb(186,186,186)"/><circle cx="45.6" cy="363.6" r="1.2" fill="rgb(176,176,176)"/><circle cx="60.0" cy="392.0" r="1.1" fill="rgb(180,180,180)"/><circle cx="40.5" cy="443.8" r="0.8" fill="rgb(176,176,176)"/><circle cx="46.6" cy="390.0" r="0.7" fill="rgb(176,176,176)"/><circle cx="52.4" cy="380.3" r="1.5" fill="rgb(204,204,204)"/><circle cx="58.7" cy="438.3" r="0.9" fill="rgb(206,206,206)"/><circle cx="52.7" cy="432.1" r="0.9" fill="rgb(184,184,184)"/><circle cx="42.5" cy="367.0" r="1.2" fill="rgb(210,210,210)"/><circle cx="54.4" cy="442.9" r="1.1" fill="rgb(188,188,188)"/><circle cx="51.2" cy="424.8" r="1.0" fill="rgb(208,208,208)"/><circle cx="41.8" cy="369.1" r="0.9" fill="rgb(204,204,204)"/><circle cx="48.0" cy="381.6" r="0.8" fill="rgb(206,206,206)"/><circle cx="44.4" cy="379.4" r="1.3" fill="rgb(188,188,188)"/><circle cx="59.1" cy="418.9" r="0.9" fill="rgb(184,184,184)"/><circle cx="42.7" cy="423.1" r="1.1" fill="rgb(204,204,204)"/><circle cx="57.7" cy="422.9" r="1.4" fill="rgb(188,188,188)"/><circle cx="67.2" cy="409.9" r="1.0" fill="rgb(188,188,188)"/><circle cx="40.8" cy="393.8" r="1.2" fill="rgb(208,208,208)"/><circle cx="49.4" cy="375.6" r="1.3" fill="rgb(208,208,208)"/><circle cx="58.0" cy="385.1" r="1.3" fill="rgb(206,206,206)"/><circle cx="69.7" cy="398.3" r="0.9" fill="rgb(176,176,176)"/><circle cx="43.9" cy="441.7" r="1.2" fill="rgb(180,180,180)"/><circle cx="41.6" cy="431.9" r="1.1" fill="rgb(204,204,204)"/><circle cx="68.2" cy="413.4" r="1.1" fill="rgb(176,176,176)"/><circle cx="41.8" cy="446.6" r="1.1" fill="rgb(204,204,204)"/><circle cx="42.0" cy="419.1" r="1.2" fill="rgb(206,206,206)"/><circle cx="42.9" cy="388.1" r="1.2" fill="rgb(180,180,180)"/><circle cx="44.6" cy="442.9" r="1.3" fill="rgb(204,204,204)"/><circle cx="40.7" cy="388.2" r="1.0" fill="rgb(206,206,206)"/><circle cx="45.0" cy="441.9" r="1.1" fill="rgb(208,208,208)"/><circle cx="42.2" cy="385.7" r="1.0" fill="rgb(176,176,176)"/><circle cx="57.4" cy="403.9" r="1.4" fill="rgb(184,184,184)"/><circle cx="40.8" cy="398.0" r="1.1" fill="rgb(184,184,184)"/><circle cx="43.9" cy="400.7" r="1.0" fill="rgb(184,184,184)"/><circle cx="41.4" cy="395.1" r="1.2" fill="rgb(176,176,176)"/><circle cx="68.0" cy="407.1" r="1.3" fill="rgb(176,176,176)"/><circle cx="59.3" cy="437.9" r="0.7" fill="rgb(188,188,188)"/><circle cx="46.8" cy="367.7" r="1.5" fill="rgb(204,204,204)"/><circle cx="43.8" cy="368.0" r="0.9" fill="rgb(208,208,208)"/><circle cx="58.2" cy="392.2" r="1.1" fill="rgb(204,204,204)"/><circle cx="41.1" cy="398.0" r="1.0" fill="rgb(208,208,208)"/><circle cx="42.0" cy="412.4" r="1.0" fill="rgb(206,206,206)"/><circle cx="65.5" cy="392.2" r="0.7" fill="rgb(180,180,180)"/><circle cx="52.3" cy="402.2" r="1.2" fill="rgb(184,184,184)"/><circle cx="45.5" cy="381.0" r="1.2" fill="rgb(210,210,210)"/><circle cx="61.0" cy="394.4" r="0.9" fill="rgb(176,176,176)"/><circle cx="67.5" cy="401.0" r="0.8" fill="rgb(176,176,176)"/><circle cx="50.7" cy="415.4" r="1.2" fill="rgb(206,206,206)"/><circle cx="53.4" cy="413.6" r="0.8" fill="rgb(210,210,210)"/><circle cx="41.1" cy="396.6" r="0.9" fill="rgb(208,208,208)"/><circle cx="47.7" cy="365.1" r="0.8" fill="rgb(210,210,210)"/><circle cx="58.7" cy="406.2" r="1.4" fill="rgb(206,206,206)"/><circle cx="59.0" cy="389.4" r="1.1" fill="rgb(186,186,186)"/><circle cx="56.0" cy="382.2" r="1.1" fill="rgb(204,204,204)"/><circle cx="46.7" cy="373.5" r="1.5" fill="rgb(206,206,206)"/><circle cx="47.0" cy="363.3" r="1.1" fill="rgb(204,204,204)"/><circle cx="47.5" cy="371.2" r="1.1" fill="rgb(206,206,206)"/><circle cx="47.9" cy="441.5" r="1.2" fill="rgb(180,180,180)"/><circle cx="50.5" cy="448.5" r="1.1" fill="rgb(186,186,186)"/><circle cx="50.2" cy="383.3" r="1.5" fill="rgb(180,180,180)"/><circle cx="70.4" cy="405.1" r="1.3" fill="rgb(210,210,210)"/><circle cx="51.8" cy="441.4" r="1.5" fill="rgb(208,208,208)"/></g>
<path d="M287 438 l4 2 l3 -1 l2 4 l-1 5 l3 3" fill="none" stroke="#b0b0b0" stroke-width="1.5" filter="url(#bh)"/>
</svg>
<rect x="244.7" y="315.2" width="87.1" height="86.6" fill="#fff" stroke="#111" stroke-width="3"/>
<path d="M255.5 316.7 L323.5 316.7 L311.5 351 C307 359 301 362.2 291 362.2 C281 362.2 276 359 272 352 Z" fill="#8a8a8a" stroke="#2a2a2a" stroke-width="1.2"/>
<path d="M259.5 317 L276.5 351" stroke="#c2c2c2" stroke-width="3.6" filter="url(#bh)"/><path d="M319 317 L307.5 350" stroke="#c8c8c8" stroke-width="3.6" filter="url(#bh)"/>
<path d="M265.5 317 L281 350 M313 317 L303 350" stroke="#7a7a7a" stroke-width="2" filter="url(#bh)"/>
<ellipse cx="287.3" cy="348.6" rx="11.8" ry="12.4" transform="rotate(-20 287.3 348.6)" fill="none" stroke="#fff" stroke-width="2.8" stroke-dasharray="2.8 3.1"/>
<text x="208" y="445.3" font-family="Liberation Sans" font-weight="bold" font-size="29.5" fill="#fff" text-anchor="start" textLength="78" lengthAdjust="spacingAndGlyphs" stroke="#fff" stroke-width="0.4">Cell 1</text>
<text x="52.4" y="506.7" font-family="Liberation Sans" font-weight="bold" font-size="29.5" fill="#fff" text-anchor="start" textLength="78" lengthAdjust="spacingAndGlyphs" stroke="#fff" stroke-width="0.4">Cell 2</text>
<text x="252.4" y="508.9" font-family="Liberation Sans" font-weight="bold" font-size="29.5" fill="#fff" text-anchor="start" textLength="78" lengthAdjust="spacingAndGlyphs" stroke="#fff" stroke-width="0.4">Cell 4</text>
<text x="156.4" y="586.7" font-family="Liberation Sans" font-weight="bold" font-size="29.5" fill="#fff" text-anchor="start" textLength="78" lengthAdjust="spacingAndGlyphs" stroke="#fff" stroke-width="0.4">Cell 3</text>
<path d="M184.80 421.10 L184.80 434.30 M179.08 424.40 L190.52 431.00 M190.52 424.40 L179.08 431.00" stroke="#fff" stroke-width="3" stroke-linecap="butt"/>
<path d="M244.40 462.80 L244.40 476.00 M238.68 466.10 L250.12 472.70 M250.12 466.10 L238.68 472.70" stroke="#fff" stroke-width="3" stroke-linecap="butt"/>
<path d="M150.70 491.70 L150.70 504.90 M144.98 495.00 L156.42 501.60 M156.42 495.00 L144.98 501.60" stroke="#fff" stroke-width="3" stroke-linecap="butt"/>
<path d="M126.00 525.70 L126.00 538.90 M120.28 529.00 L131.72 535.60 M131.72 529.00 L120.28 535.60" stroke="#fff" stroke-width="3" stroke-linecap="butt"/>
<g stroke="#000" stroke-width="2.4" fill="none">
<path d="M402 228 V534.2"/>
<path d="M400.8 533 H655.5"/>
<path d="M393.5 246.2 H402"/>
<path d="M393.5 313.8 H402"/>
<path d="M393.5 381.6 H402"/>
<path d="M393.5 448.8 H402"/>
<path d="M393.5 516 H402"/>
<path d="M409.5 533 V542"/>
<path d="M491 533 V542"/>
<path d="M572.5 533 V542"/>
<path d="M654 533 V542"/>
<path d="M450.3 533 V538.5"/>
<path d="M531.8 533 V538.5"/>
<path d="M613.3 533 V538.5"/>
</g>
<text x="0" y="0" font-family="Liberation Sans" font-weight="bold" font-size="20" text-anchor="middle" transform="translate(409.8 564) scale(1.18 1)">0</text>
<text x="0" y="0" font-family="Liberation Sans" font-weight="bold" font-size="20" text-anchor="middle" transform="translate(491.1 564) scale(1.18 1)">5</text>
<text x="0" y="0" font-family="Liberation Sans" font-weight="bold" font-size="20" text-anchor="middle" transform="translate(573 564) scale(1.12 1)">10</text>
<text x="0" y="0" font-family="Liberation Sans" font-weight="bold" font-size="20" text-anchor="middle" transform="translate(654.8 564) scale(1.12 1)">15</text>
<text x="437" y="593" font-family="Liberation Sans" font-weight="bold" font-size="26.5" fill="#000" text-anchor="start" textLength="181" lengthAdjust="spacingAndGlyphs" >Distance (µm)</text>
<text x="0" y="0" font-family="Liberation Sans" font-weight="bold" font-size="27.5" transform="translate(376 478.5) rotate(-90)" textLength="72" lengthAdjust="spacingAndGlyphs">Force</text>
<text x="0" y="0" font-family="Liberation Sans" font-weight="bold" font-size="27" transform="translate(375.8 310.6) rotate(-90)" textLength="57.3" lengthAdjust="spacingAndGlyphs">2 nN</text>
<path d="M387 255 V305" stroke="#000" stroke-width="2.4"/>
<path d="M387 246.5 L382 257 L392 257 Z M387 313.2 L382 302.7 L392 302.7 Z" fill="#000"/>
<path d="M418 314 H480" stroke="#000" stroke-width="1.8" stroke-dasharray="4.6 2.4"/>
<path d="M419 358.2 H618" stroke="#e2000f" stroke-width="1.8" stroke-dasharray="4.6 2.4"/>
<path d="M415 399.4 H574" stroke="#1500cc" stroke-width="1.8" stroke-dasharray="4.6 2.4"/>
<polyline points="413.0,293.7 414.1,340.0 414.5,390.0 415.2,450.0 417.0,511.6 418.5,494.7 419.6,485.9 420.6,476.5 421.7,474.5 422.9,472.3 424.0,469.3 425.2,461.1 426.4,453.9 427.6,450.9 428.7,448.5 429.9,447.1 431.0,443.3 432.2,440.5 433.4,436.9 434.5,433.9 435.5,432.9 436.6,433.1 437.6,433.0 438.6,432.2 439.7,432.0 440.7,431.6 441.7,430.5 442.8,430.9 443.8,430.3 444.8,429.9 445.8,429.6 446.8,430.6 447.9,430.1 448.9,430.3 449.9,430.5 450.9,430.3 451.9,430.5 452.9,429.8 453.9,430.3 454.9,429.9 455.9,430.4 457.0,430.3 458.0,429.4 459.0,429.4 460.0,429.5 461.0,430.4 462.0,429.8 463.0,430.0 464.0,429.7 465.0,430.0 466.0,429.8 467.0,429.8 468.0,430.1 469.0,430.2 470.0,430.6 471.0,430.3 472.0,430.7 473.0,430.6 474.0,430.8 475.0,429.9 476.1,428.8 477.1,429.1 478.2,428.7 479.2,428.1 480.3,427.2 481.3,426.9 482.4,425.8 483.4,426.0 484.4,425.0 485.5,424.1 486.5,423.1 487.5,423.4 488.6,423.0 489.6,421.2 490.6,421.4 491.7,420.3 492.7,419.4 493.7,419.1 494.8,419.2 495.8,418.9 496.9,417.5 497.9,417.7 499.0,416.6 500.0,417.0 501.1,416.4 502.1,416.9 503.2,416.9 504.2,416.2 505.3,416.6 506.3,415.7 507.4,415.3 508.4,415.8 509.5,415.5 510.7,412.6 511.9,412.4 513.1,412.1 514.2,411.9 515.4,410.9 516.6,410.3 517.8,410.0 519.0,408.2 520.0,408.8 521.0,408.6 522.0,407.8 523.0,407.7 524.0,407.6 525.0,407.6 526.0,407.3 527.0,405.5 528.0,403.8 529.0,403.8 530.0,403.9 531.0,404.3 532.0,403.8 533.0,403.7 534.0,404.1 535.0,403.5 536.0,403.6 537.0,404.4 538.0,403.9 539.0,403.9 540.0,403.3 541.0,403.8 542.0,404.0 543.0,403.4 544.0,404.1 545.0,404.1 546.0,403.5 547.0,404.2 548.0,404.0 549.0,404.3 550.0,403.9 551.0,404.3 552.0,404.4 553.0,403.5 554.0,403.6 555.0,404.4 556.0,404.7 557.0,403.9 558.0,404.1 559.0,404.3 560.0,404.0 561.0,404.1 562.0,404.0 563.0,404.1 564.0,404.4 565.0,404.1 566.0,404.2 567.0,404.7 568.0,403.8 569.0,404.5 570.0,404.7 571.0,404.4 572.0,401.9 573.0,399.4 574.0,398.3 575.0,398.1 576.0,398.8 577.1,398.0 578.1,397.9 579.1,398.2 580.1,398.4 581.1,397.7 582.2,397.9 583.2,397.9 584.2,398.4 585.2,397.9 586.2,398.4 587.3,397.5 588.3,397.6 589.3,398.0 590.3,398.2 591.3,397.6 592.4,397.3 593.4,397.1 594.4,397.6 595.4,397.1 596.4,397.8 597.5,397.8 598.5,397.0 599.5,397.0 600.5,397.7 601.5,397.6 602.5,397.8 603.6,397.3 604.6,397.1 605.6,397.3 606.6,397.9 607.6,397.3 608.6,397.5 609.7,397.6 610.7,397.6 611.7,397.7 612.7,398.3 613.7,397.5 614.8,397.3 615.8,398.5 616.8,398.4 617.8,398.6 618.8,398.0 619.8,398.6 620.9,398.7 621.9,397.9 622.9,398.5 623.9,398.7 624.9,398.5 625.9,398.4 627.0,398.1 628.0,398.2 629.0,398.1 630.0,398.0 631.0,398.7 632.0,398.3 633.1,399.0 634.1,398.1 635.1,399.2 636.1,399.0 637.1,399.3 638.1,399.3 639.2,399.4 640.2,399.0 641.2,398.4 642.2,399.3 643.4,398.3 644.6,398.1 645.7,398.2 646.9,397.7 648.1,397.2 649.2,397.8 650.2,397.4 651.3,397.1 652.4,397.0 653.4,397.7 654.5,397.3" fill="none" stroke="#1500cc" stroke-width="2" stroke-linejoin="round"/>
<polyline points="411.8,230.0 413.4,265.0 415.0,290.0 416.5,304.6 417.8,312.8 419.0,320.3 420.3,326.5 421.6,333.4 422.6,332.5 423.6,331.7 424.7,330.4 425.7,329.5 426.8,328.4 427.8,326.5 429.2,325.0 430.7,324.3 431.8,323.8 432.8,324.0 433.8,323.1 434.9,323.3 436.1,323.4 437.3,322.6 438.4,323.1 439.6,322.8 440.8,321.7 442.0,321.9 443.1,322.5 444.3,323.1 445.5,322.7 446.7,322.8 447.9,323.3 449.1,323.2 450.3,323.7 451.5,324.2 452.7,324.5 453.9,322.8 455.0,321.3 456.0,321.2 457.0,321.4 458.0,321.1 459.1,320.8 460.1,321.5 461.1,321.1 462.1,321.1 463.3,320.5 464.5,321.1 465.7,320.8 466.9,320.0 468.0,320.1 469.2,320.4 470.4,319.9 471.6,319.6 472.6,319.1 473.7,319.5 474.7,319.4 475.8,319.0 476.8,319.3 477.8,319.6 478.9,319.5 479.9,319.2 480.5,315.1 481.6,315.1 482.6,314.4 483.7,314.5 484.7,315.0 485.8,314.5 486.8,314.2 487.9,314.4 488.9,314.5 490.0,314.4 491.0,314.1 492.0,314.1 493.0,314.2 494.0,314.5 495.0,314.2 496.0,314.1 497.0,314.2 498.0,313.7 499.0,313.7 500.0,314.4 501.0,314.7 502.0,314.3 503.0,314.1 504.0,313.9 505.0,314.2 506.0,314.7 507.0,314.5 508.0,314.2 509.0,314.6 510.0,313.9 511.0,314.2 512.0,314.7 513.0,314.3 514.0,314.2 515.0,314.0 516.0,314.2 517.0,314.7 518.0,313.7 519.0,314.5 520.0,314.5 521.0,314.6 522.0,314.4 523.0,314.5 524.0,314.2 525.0,314.3 526.0,314.1 527.0,313.8 528.0,314.6 529.0,314.3 530.0,313.9 531.0,314.2 532.0,314.2 533.0,314.1 534.0,314.0 535.0,314.2 536.0,314.3 537.0,314.3 538.0,314.2 539.0,313.7 540.0,313.9 541.0,313.9 542.0,314.3 543.0,314.6 544.0,314.5 545.0,314.5 546.0,314.5 547.0,314.0 548.0,314.5 549.0,314.4 550.0,313.8 551.0,313.7 552.0,313.7 553.0,314.5 554.0,313.9 555.0,313.8 556.0,314.3 557.0,314.0 558.0,313.8 559.0,313.9 560.0,314.2 561.0,313.9 562.0,314.0 563.0,314.4 564.0,314.2 565.0,314.0 566.0,314.2 567.0,313.8 568.0,314.1 569.0,314.2 570.0,313.9 571.0,313.9 572.0,314.7 573.0,314.3 574.0,314.0 575.0,314.4 576.1,314.6 577.1,313.8 578.1,313.8 579.1,313.9 580.1,314.5 581.1,313.9 582.1,314.5 583.1,314.5 584.1,314.3 585.1,314.0 586.1,314.8 587.1,314.6 588.1,314.3 589.1,314.0 590.1,314.5 591.1,314.2 592.1,314.4 593.1,314.2 594.1,314.5 595.1,313.9 596.1,314.2 597.1,314.8 598.1,314.7 599.1,314.2 600.1,314.7 601.1,314.2 602.1,314.8 603.1,314.6 604.1,314.3 605.1,314.1 606.1,313.9 607.1,314.8 608.2,313.9 609.2,314.7 610.2,314.9 611.2,314.5 612.2,314.1 613.2,314.8 614.2,314.9 615.2,314.6 616.2,314.4 617.2,314.3 618.2,314.3 619.2,314.2 620.2,314.6 621.2,314.4 622.2,314.2 623.2,314.1 624.2,314.6 625.2,314.3 626.2,314.5 627.2,314.3 628.2,314.9 629.2,314.9 630.2,314.0 631.2,314.2 632.2,314.3 633.2,315.0 634.2,314.8 635.2,314.4 636.2,314.2 637.2,314.7 638.2,314.9 639.3,315.0 640.3,314.4 641.3,314.9 642.3,314.7 643.3,314.5 644.3,315.0 645.3,314.3 646.3,314.8 647.3,314.2 648.3,314.2 649.3,315.0 650.3,314.3 651.3,314.8 652.3,314.7 653.3,314.9 654.3,314.6" fill="none" stroke="#000" stroke-width="2" stroke-linejoin="round"/>
<polyline points="411.8,230.0 413.0,265.0 414.3,300.0 415.3,315.5 416.5,330.4 417.7,344.6 418.9,353.1 420.2,362.3 421.2,367.5 422.2,372.6 423.2,377.5 424.2,382.9 426.0,377.0 427.8,374.7 429.0,374.1 430.1,373.5 431.3,372.5 432.3,372.6 433.3,372.5 434.3,372.8 435.3,373.0 436.3,372.8 437.3,372.3 438.5,371.3 439.6,370.3 440.8,369.9 442.0,369.8 443.1,370.1 444.3,369.8 445.5,369.9 447.3,369.3 448.5,366.8 449.6,367.3 450.7,366.9 451.8,367.0 452.9,366.6 454.1,366.4 455.2,366.7 456.3,366.5 457.4,366.9 458.4,367.5 459.4,367.2 460.4,366.8 461.5,367.5 462.5,367.5 463.5,367.5 464.5,367.7 465.5,367.6 466.5,367.7 467.5,367.3 468.6,368.0 469.6,368.0 470.6,367.3 471.6,367.7 473.4,366.3 474.6,363.1 475.6,363.0 476.6,362.8 477.6,362.8 478.6,362.8 479.6,363.2 480.6,362.8 481.6,363.1 482.6,362.6 483.6,363.2 484.6,363.2 485.7,362.7 486.7,362.8 487.7,363.2 488.7,363.0 489.7,362.7 490.7,362.5 491.7,362.6 492.7,362.9 493.7,362.4 494.7,363.1 495.7,362.5 496.7,363.1 497.7,362.5 498.7,363.2 499.7,362.9 500.7,362.7 501.7,362.7 502.7,362.9 503.7,362.8 504.7,362.5 505.7,362.4 506.7,362.7 507.8,363.1 508.8,362.8 509.8,362.3 510.8,363.0 511.8,362.9 512.8,363.1 513.8,362.4 514.8,362.9 515.8,362.2 516.8,362.8 517.8,362.4 518.8,362.4 519.8,363.0 520.8,362.2 521.8,362.7 522.8,363.0 523.8,362.4 524.8,362.3 525.8,363.0 526.8,362.5 527.8,362.8 528.9,362.1 529.9,362.5 530.9,362.3 531.9,362.8 532.9,362.2 533.9,363.0 534.9,362.1 535.9,362.8 536.9,362.1 537.9,362.3 538.9,362.9 539.9,362.2 540.9,362.3 541.9,362.8 542.9,362.4 543.9,362.1 544.9,363.0 545.9,362.2 546.9,362.1 547.9,362.4 548.9,362.7 549.9,362.8 551.0,362.1 552.0,362.4 553.0,362.1 554.0,362.5 555.0,362.8 556.0,362.8 557.0,362.9 558.0,362.8 559.0,362.9 560.0,362.7 561.0,362.5 562.0,360.4 563.0,360.1 564.0,360.6 565.0,360.2 566.0,360.0 567.0,360.3 568.1,360.8 569.1,360.0 570.1,360.5 571.1,360.3 572.1,360.4 573.1,360.0 574.1,360.9 575.1,360.2 576.1,360.5 577.1,360.3 578.1,359.9 579.2,360.5 580.2,360.0 581.2,360.0 582.2,359.9 583.2,360.1 584.2,360.0 585.2,360.5 586.2,360.4 587.2,360.9 588.2,360.8 589.2,360.9 590.3,360.1 591.3,360.3 592.3,360.2 593.3,360.5 594.3,360.5 595.3,360.7 596.3,360.6 597.3,360.2 598.3,360.3 599.3,360.4 600.3,359.9 601.4,359.9 602.4,360.3 603.4,360.0 604.4,360.6 605.4,360.1 606.4,360.0 607.4,360.1 608.4,360.1 609.4,360.1 610.4,360.4 611.4,360.4 612.5,360.2 613.5,360.5 614.5,360.1 615.5,360.8 616.5,360.9 617.5,360.4 618.5,357.8 619.5,357.5 620.5,357.6 621.5,357.7 622.6,357.2 623.6,357.5 624.6,357.6 625.6,357.3 626.6,357.2 627.6,357.9 628.6,357.5 629.7,357.6 630.7,358.0 631.7,357.7 632.7,357.4 633.7,358.1 634.7,357.5 635.7,357.1 636.8,357.8 637.8,357.2 638.8,357.4 639.8,357.9 640.8,357.8 641.8,357.1 642.8,357.6 643.8,357.5 644.9,357.6 645.9,357.3 646.9,357.7 647.9,357.2 648.9,357.4 649.9,357.5 650.9,358.0 652.0,357.2 653.0,357.9 654.0,357.3 655.0,357.6" fill="none" stroke="#e2000f" stroke-width="2" stroke-linejoin="round"/>
<text x="509.6" y="305.9" font-family="Liberation Sans" font-weight="bold" font-size="18.6" fill="#000" text-anchor="start" textLength="37.4" lengthAdjust="spacingAndGlyphs" >CHO</text>
<text x="509.6" y="350.1" font-family="Liberation Sans" font-weight="bold" font-size="18.6" fill="#e2000f" text-anchor="start" textLength="161.5" lengthAdjust="spacingAndGlyphs" >CHO-DC-SIGN + Ab</text>
<text x="509.6" y="393.3" font-family="Liberation Sans" font-weight="bold" font-size="18.6" fill="#1500cc" text-anchor="start" textLength="118.3" lengthAdjust="spacingAndGlyphs" >CHO-DC-SIGN</text>
</svg></body></html>
